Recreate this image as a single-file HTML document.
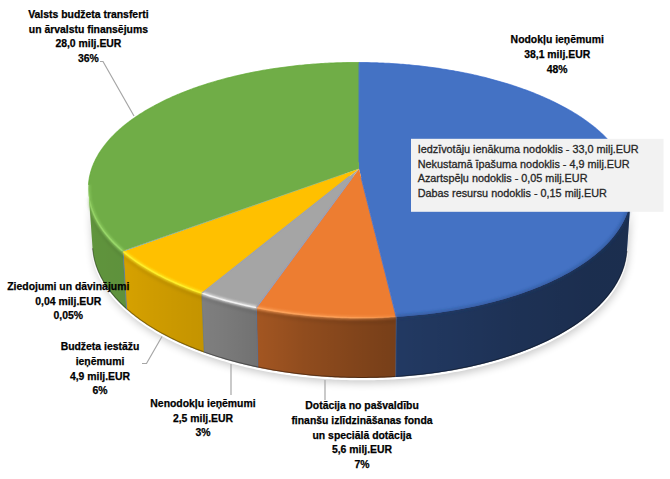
<!DOCTYPE html>
<html><head><meta charset="utf-8"><style>
html,body{margin:0;padding:0;background:#fff;width:670px;height:479px;overflow:hidden}
svg{display:block;font-family:"Liberation Sans", sans-serif}
</style></head><body>
<svg width="670" height="479" viewBox="0 0 670 479">
<defs>
<filter id="blurS" x="-20%" y="-50%" width="140%" height="200%"><feGaussianBlur stdDeviation="4"/></filter>
<filter id="blur1" x="-5%" y="-50%" width="110%" height="200%"><feGaussianBlur stdDeviation="0.7"/></filter>
<filter id="blurH" x="-5%" y="-50%" width="110%" height="200%"><feGaussianBlur stdDeviation="0.9"/></filter>
<filter id="blur05" x="-5%" y="-50%" width="110%" height="200%"><feGaussianBlur stdDeviation="0.5"/></filter>
<filter id="blur2" x="-5%" y="-50%" width="110%" height="200%"><feGaussianBlur stdDeviation="1.5"/></filter>
<linearGradient id="shade" gradientUnits="userSpaceOnUse" x1="88.53" y1="0" x2="630.96" y2="0"><stop offset="0.0000" stop-color="#000" stop-opacity="0.140"/><stop offset="0.0025" stop-color="#000" stop-opacity="0.143"/><stop offset="0.0077" stop-color="#000" stop-opacity="0.146"/><stop offset="0.0156" stop-color="#000" stop-opacity="0.149"/><stop offset="0.0262" stop-color="#000" stop-opacity="0.152"/><stop offset="0.0397" stop-color="#000" stop-opacity="0.155"/><stop offset="0.0559" stop-color="#000" stop-opacity="0.158"/><stop offset="0.0749" stop-color="#000" stop-opacity="0.166"/><stop offset="0.0967" stop-color="#000" stop-opacity="0.179"/><stop offset="0.1211" stop-color="#000" stop-opacity="0.191"/><stop offset="0.1481" stop-color="#000" stop-opacity="0.204"/><stop offset="0.1776" stop-color="#000" stop-opacity="0.217"/><stop offset="0.2094" stop-color="#000" stop-opacity="0.230"/><stop offset="0.2434" stop-color="#000" stop-opacity="0.254"/><stop offset="0.2792" stop-color="#000" stop-opacity="0.285"/><stop offset="0.3167" stop-color="#000" stop-opacity="0.319"/><stop offset="0.3557" stop-color="#000" stop-opacity="0.354"/><stop offset="0.3957" stop-color="#000" stop-opacity="0.390"/><stop offset="0.4366" stop-color="#000" stop-opacity="0.418"/><stop offset="0.4780" stop-color="#000" stop-opacity="0.446"/><stop offset="0.5196" stop-color="#000" stop-opacity="0.472"/><stop offset="0.5610" stop-color="#000" stop-opacity="0.495"/><stop offset="0.6020" stop-color="#000" stop-opacity="0.509"/><stop offset="0.6422" stop-color="#000" stop-opacity="0.522"/><stop offset="0.6812" stop-color="#000" stop-opacity="0.534"/><stop offset="0.7189" stop-color="#000" stop-opacity="0.546"/><stop offset="0.7549" stop-color="#000" stop-opacity="0.558"/><stop offset="0.7891" stop-color="#000" stop-opacity="0.570"/><stop offset="0.8211" stop-color="#000" stop-opacity="0.576"/><stop offset="0.8508" stop-color="#000" stop-opacity="0.582"/><stop offset="0.8780" stop-color="#000" stop-opacity="0.588"/><stop offset="0.9026" stop-color="#000" stop-opacity="0.594"/><stop offset="0.9245" stop-color="#000" stop-opacity="0.600"/><stop offset="0.9437" stop-color="#000" stop-opacity="0.600"/><stop offset="0.9601" stop-color="#000" stop-opacity="0.600"/><stop offset="0.9736" stop-color="#000" stop-opacity="0.600"/><stop offset="0.9843" stop-color="#000" stop-opacity="0.600"/><stop offset="0.9923" stop-color="#000" stop-opacity="0.600"/><stop offset="0.9975" stop-color="#000" stop-opacity="0.600"/><stop offset="1.0000" stop-color="#000" stop-opacity="0.600"/></linearGradient>
</defs>
<path d="M630.96,195.89 630.87,197.03 630.75,198.17 630.62,199.31 630.46,200.46 630.27,201.60 630.07,202.75 629.84,203.89 629.59,205.04 629.32,206.19 629.03,207.34 628.71,208.48 628.37,209.63 628.01,210.78 627.63,211.93 627.22,213.08 626.79,214.22 626.33,215.37 625.86,216.52 625.36,217.66 624.83,218.81 624.29,219.96 623.72,221.10 623.12,222.24 622.51,223.39 621.87,224.53 621.20,225.67 620.51,226.80 619.80,227.94 619.07,229.08 618.31,230.21 617.53,231.34 616.73,232.47 615.90,233.60 615.04,234.72 614.17,235.84 613.27,236.96 612.34,238.08 611.40,239.20 610.42,240.31 609.43,241.42 608.41,242.52 607.37,243.63 606.30,244.73 605.21,245.82 604.10,246.91 602.96,248.00 601.80,249.09 600.61,250.17 599.40,251.24 598.17,252.32 596.91,253.38 595.63,254.45 594.33,255.51 593.00,256.56 591.65,257.61 590.28,258.66 588.88,259.70 587.46,260.73 586.02,261.76 584.55,262.78 583.06,263.80 581.55,264.81 580.02,265.82 578.46,266.82 576.88,267.81 575.27,268.80 573.65,269.78 572.00,270.76 570.33,271.72 568.64,272.69 566.92,273.64 565.18,274.59 563.42,275.53 561.64,276.46 559.84,277.39 558.01,278.30 556.17,279.22 554.30,280.12 552.41,281.01 550.51,281.90 548.58,282.78 546.62,283.65 544.65,284.51 542.66,285.36 540.65,286.21 538.62,287.04 536.57,287.87 534.49,288.69 532.40,289.50 530.29,290.30 528.16,291.09 526.02,291.87 523.85,292.64 521.66,293.40 519.46,294.15 517.24,294.89 515.00,295.63 512.74,296.35 510.46,297.06 508.17,297.76 505.86,298.45 503.53,299.13 501.19,299.80 498.83,300.46 496.46,301.10 494.06,301.74 491.66,302.37 489.23,302.98 486.80,303.58 484.34,304.17 481.88,304.75 479.40,305.32 476.90,305.88 474.39,306.42 471.87,306.96 469.33,307.48 466.78,307.99 464.22,308.48 461.65,308.97 459.06,309.44 456.46,309.90 453.85,310.35 451.23,310.78 448.60,311.21 445.96,311.62 443.30,312.02 440.64,312.40 437.97,312.77 435.29,313.13 432.60,313.48 429.90,313.81 427.19,314.13 424.47,314.44 421.75,314.73 419.02,315.01 416.28,315.28 413.53,315.53 410.78,315.78 408.02,316.00 405.26,316.22 402.49,316.42 399.71,316.61 396.93,316.78 394.15,316.94 391.36,317.09 388.57,317.22 385.77,317.34 382.98,317.44 380.17,317.54 377.37,317.62 374.57,317.68 371.76,317.73 368.95,317.77 366.14,317.79 363.33,317.80 360.52,317.80 357.71,317.78 354.89,317.75 352.08,317.71 349.28,317.65 346.47,317.58 343.66,317.49 340.86,317.39 338.06,317.28 335.26,317.15 332.46,317.01 329.67,316.86 326.88,316.69 324.10,316.51 321.32,316.32 318.54,316.11 315.77,315.89 313.00,315.65 310.25,315.41 307.49,315.15 304.75,314.87 302.01,314.58 299.27,314.28 296.55,313.97 293.83,313.64 291.12,313.30 288.42,312.95 285.73,312.59 283.04,312.21 280.37,311.82 277.71,311.41 275.05,311.00 272.41,310.57 269.77,310.13 267.15,309.67 264.54,309.21 261.94,308.73 259.35,308.24 256.77,307.73 254.21,307.22 251.66,306.69 249.12,306.15 246.59,305.60 244.08,305.04 241.58,304.47 239.10,303.88 236.63,303.29 234.17,302.68 231.73,302.06 229.30,301.43 226.89,300.79 224.50,300.14 222.12,299.47 219.75,298.80 217.41,298.11 215.08,297.42 212.76,296.71 210.46,296.00 208.18,295.27 205.92,294.54 203.68,293.79 201.45,293.04 199.24,292.27 197.05,291.50 194.88,290.71 192.72,289.92 190.59,289.12 188.47,288.30 186.37,287.48 184.30,286.65 182.24,285.81 180.20,284.96 178.18,284.11 176.18,283.24 174.20,282.37 172.25,281.49 170.31,280.60 168.39,279.70 166.50,278.80 164.62,277.88 162.77,276.96 160.94,276.04 159.12,275.10 157.33,274.16 155.57,273.21 153.82,272.25 152.10,271.29 150.39,270.32 148.71,269.34 147.05,268.36 145.42,267.37 143.80,266.38 142.21,265.38 140.64,264.37 139.10,263.36 137.57,262.34 136.07,261.31 134.60,260.28 133.14,259.25 131.71,258.21 130.30,257.16 128.92,256.11 127.55,255.06 126.21,254.00 124.90,252.93 123.61,251.87 122.34,250.79 121.09,249.72 119.87,248.64 118.67,247.55 117.49,246.46 116.34,245.37 115.21,244.28 114.11,243.18 113.03,242.08 111.97,240.97 110.93,239.86 109.92,238.75 108.94,237.64 107.97,236.52 107.03,235.40 106.12,234.28 105.22,233.16 104.35,232.03 103.51,230.90 102.68,229.77 101.89,228.64 101.11,227.51 100.36,226.37 99.63,225.24 98.92,224.10 98.24,222.96 97.58,221.82 96.95,220.68 96.34,219.53 95.75,218.39 95.18,217.25 94.64,216.10 94.12,214.96 93.62,213.81 93.15,212.67 92.70,211.52 92.27,210.37 91.86,209.23 91.48,208.08 91.12,206.94 90.78,205.79 90.47,204.65 90.18,203.50 89.91,202.36 89.66,201.21 89.43,200.07 89.23,198.93 89.04,197.79 88.88,196.65 88.75,195.51 88.63,194.38 88.53,193.24 L92.61,248.72 92.71,249.90 92.83,251.09 92.97,252.28 93.13,253.47 93.31,254.66 93.52,255.85 93.74,257.04 93.99,258.24 94.26,259.43 94.55,260.62 94.87,261.82 95.20,263.01 95.56,264.21 95.94,265.40 96.35,266.60 96.77,267.79 97.22,268.99 97.69,270.18 98.18,271.37 98.70,272.57 99.23,273.76 99.79,274.95 100.38,276.14 100.98,277.33 101.61,278.52 102.26,279.71 102.94,280.89 103.64,282.08 104.36,283.26 105.10,284.44 105.87,285.62 106.66,286.80 107.47,287.97 108.30,289.15 109.16,290.32 110.05,291.48 110.95,292.65 111.88,293.81 112.83,294.97 113.81,296.13 114.80,297.29 115.82,298.44 116.87,299.58 117.94,300.73 119.03,301.87 120.14,303.01 121.28,304.14 122.44,305.27 123.62,306.40 124.82,307.52 126.05,308.64 127.30,309.75 128.58,310.86 129.88,311.96 131.20,313.06 132.54,314.15 133.91,315.24 135.29,316.32 136.71,317.40 138.14,318.48 139.60,319.54 141.08,320.60 142.58,321.66 144.10,322.71 145.65,323.75 147.21,324.79 148.80,325.82 150.42,326.85 152.05,327.86 153.71,328.87 155.38,329.88 157.08,330.88 158.80,331.87 160.54,332.85 162.31,333.82 164.09,334.79 165.90,335.75 167.72,336.70 169.57,337.65 171.43,338.58 173.32,339.51 175.23,340.43 177.16,341.34 179.11,342.25 181.07,343.14 183.06,344.03 185.07,344.90 187.09,345.77 189.14,346.63 191.20,347.48 193.29,348.32 195.39,349.15 197.51,349.97 199.65,350.78 201.81,351.58 203.98,352.37 206.17,353.15 208.38,353.92 210.61,354.68 212.86,355.43 215.12,356.17 217.39,356.89 219.69,357.61 222.00,358.32 224.32,359.01 226.67,359.70 229.02,360.37 231.40,361.03 233.78,361.68 236.19,362.32 238.60,362.95 241.03,363.56 243.48,364.17 245.94,364.76 248.41,365.34 250.89,365.91 253.39,366.46 255.90,367.00 258.43,367.54 260.96,368.05 263.51,368.56 266.07,369.05 268.64,369.53 271.22,370.00 273.81,370.46 276.41,370.90 279.02,371.33 281.64,371.74 284.28,372.15 286.92,372.54 289.57,372.91 292.22,373.28 294.89,373.63 297.56,373.96 300.24,374.29 302.93,374.60 305.63,374.89 308.33,375.17 311.04,375.44 313.75,375.70 316.47,375.94 319.20,376.17 321.93,376.38 324.66,376.58 327.40,376.76 330.15,376.94 332.89,377.09 335.64,377.24 338.40,377.37 341.15,377.48 343.91,377.59 346.67,377.67 349.43,377.75 352.20,377.81 354.96,377.85 357.73,377.88 360.49,377.90 363.26,377.90 366.02,377.89 368.79,377.87 371.55,377.83 374.31,377.77 377.07,377.71 379.83,377.62 382.59,377.53 385.34,377.42 388.09,377.29 390.84,377.16 393.58,377.01 396.32,376.84 399.05,376.66 401.78,376.47 404.51,376.26 407.23,376.04 409.94,375.80 412.65,375.55 415.35,375.29 418.04,375.01 420.73,374.72 423.41,374.42 426.08,374.10 428.75,373.77 431.40,373.43 434.05,373.07 436.69,372.70 439.32,372.31 441.94,371.91 444.55,371.50 447.15,371.08 449.74,370.64 452.32,370.19 454.88,369.73 457.44,369.25 459.98,368.77 462.52,368.26 465.04,367.75 467.55,367.23 470.04,366.69 472.52,366.14 474.99,365.57 477.45,365.00 479.89,364.41 482.32,363.81 484.73,363.20 487.13,362.58 489.52,361.94 491.89,361.30 494.24,360.64 496.58,359.97 498.90,359.29 501.21,358.60 503.50,357.89 505.77,357.18 508.03,356.46 510.27,355.72 512.49,354.97 514.69,354.22 516.88,353.45 519.05,352.67 521.20,351.89 523.34,351.09 525.45,350.28 527.55,349.46 529.62,348.64 531.68,347.80 533.72,346.95 535.74,346.10 537.74,345.23 539.72,344.36 541.68,343.47 543.63,342.58 545.55,341.68 547.45,340.77 549.33,339.85 551.19,338.93 553.03,337.99 554.84,337.05 556.64,336.10 558.42,335.14 560.17,334.18 561.90,333.20 563.61,332.22 565.30,331.23 566.97,330.23 568.62,329.23 570.24,328.22 571.85,327.20 573.43,326.18 574.98,325.15 576.52,324.11 578.03,323.07 579.52,322.02 580.99,320.97 582.44,319.90 583.86,318.84 585.26,317.76 586.64,316.69 587.99,315.60 589.32,314.51 590.63,313.42 591.91,312.32 593.18,311.22 594.41,310.11 595.63,308.99 596.82,307.88 597.99,306.75 599.14,305.63 600.26,304.50 601.36,303.36 602.44,302.22 603.49,301.08 604.52,299.94 605.52,298.79 606.51,297.63 607.47,296.48 608.40,295.32 609.31,294.16 610.20,292.99 611.07,291.83 611.91,290.66 612.73,289.48 613.53,288.31 614.30,287.13 615.05,285.95 615.77,284.77 616.48,283.59 617.16,282.40 617.81,281.22 618.45,280.03 619.06,278.84 619.65,277.65 620.21,276.46 620.75,275.27 621.27,274.07 621.77,272.88 622.24,271.68 622.69,270.49 623.12,269.29 623.52,268.09 623.91,266.90 624.27,265.70 624.61,264.50 624.92,263.30 625.22,262.11 625.49,260.91 625.74,259.71 625.96,258.52 626.17,257.32 626.35,256.12 626.51,254.93 626.65,253.74 626.77,252.54 626.87,251.35 Z" transform="translate(1,5)" fill="#000" opacity="0.22" filter="url(#blurS)"/>
<path d="M626.87,251.35 626.77,252.54 626.65,253.74 626.51,254.93 626.35,256.12 626.17,257.32 625.96,258.52 625.74,259.71 625.49,260.91 625.22,262.11 624.92,263.30 624.61,264.50 624.27,265.70 623.91,266.90 623.52,268.09 623.12,269.29 622.69,270.49 622.24,271.68 621.77,272.88 621.27,274.07 620.75,275.27 620.21,276.46 619.65,277.65 619.06,278.84 618.45,280.03 617.81,281.22 617.16,282.40 616.48,283.59 615.77,284.77 615.05,285.95 614.30,287.13 613.53,288.31 612.73,289.48 611.91,290.66 611.07,291.83 610.20,292.99 609.31,294.16 608.40,295.32 607.47,296.48 606.51,297.63 605.52,298.79 604.52,299.94 603.49,301.08 602.44,302.22 601.36,303.36 600.26,304.50 599.14,305.63 597.99,306.75 596.82,307.88 595.63,308.99 594.41,310.11 593.18,311.22 591.91,312.32 590.63,313.42 589.32,314.51 587.99,315.60 586.64,316.69 585.26,317.76 583.86,318.84 582.44,319.90 580.99,320.97 579.52,322.02 578.03,323.07 576.52,324.11 574.98,325.15 573.43,326.18 571.85,327.20 570.24,328.22 568.62,329.23 566.97,330.23 565.30,331.23 563.61,332.22 561.90,333.20 560.17,334.18 558.42,335.14 556.64,336.10 554.84,337.05 553.03,337.99 551.19,338.93 549.33,339.85 547.45,340.77 545.55,341.68 543.63,342.58 541.68,343.47 539.72,344.36 537.74,345.23 535.74,346.10 533.72,346.95 531.68,347.80 529.62,348.64 527.55,349.46 525.45,350.28 523.34,351.09 521.20,351.89 519.05,352.67 516.88,353.45 514.69,354.22 512.49,354.97 510.27,355.72 508.03,356.46 505.77,357.18 503.50,357.89 501.21,358.60 498.90,359.29 496.58,359.97 494.24,360.64 491.89,361.30 489.52,361.94 487.13,362.58 484.73,363.20 482.32,363.81 479.89,364.41 477.45,365.00 474.99,365.57 472.52,366.14 470.04,366.69 467.55,367.23 465.04,367.75 462.52,368.26 459.98,368.77 457.44,369.25 454.88,369.73 452.32,370.19 449.74,370.64 447.15,371.08 444.55,371.50 441.94,371.91 439.32,372.31 436.69,372.70 434.05,373.07 431.40,373.43 428.75,373.77 426.08,374.10 423.41,374.42 420.73,374.72 418.04,375.01 415.35,375.29 412.65,375.55 409.94,375.80 407.23,376.04 404.51,376.26 401.78,376.47 399.05,376.66 396.32,376.84 393.58,377.01 390.84,377.16 388.09,377.29 385.34,377.42 382.59,377.53 379.83,377.62 377.07,377.71 374.31,377.77 371.55,377.83 368.79,377.87 366.02,377.89 363.26,377.90 360.49,377.90 357.73,377.88 354.96,377.85 352.20,377.81 349.43,377.75 346.67,377.67 343.91,377.59 341.15,377.48 338.40,377.37 335.64,377.24 332.89,377.09 330.15,376.94 327.40,376.76 324.66,376.58 321.93,376.38 319.20,376.17 316.47,375.94 313.75,375.70 311.04,375.44 308.33,375.17 305.63,374.89 302.93,374.60 300.24,374.29 297.56,373.96 294.89,373.63 292.22,373.28 289.57,372.91 286.92,372.54 284.28,372.15 281.64,371.74 279.02,371.33 276.41,370.90 273.81,370.46 271.22,370.00 268.64,369.53 266.07,369.05 263.51,368.56 260.96,368.05 258.43,367.54 255.90,367.00 253.39,366.46 250.89,365.91 248.41,365.34 245.94,364.76 243.48,364.17 241.03,363.56 238.60,362.95 236.19,362.32 233.78,361.68 231.40,361.03 229.02,360.37 226.67,359.70 224.32,359.01 222.00,358.32 219.69,357.61 217.39,356.89 215.12,356.17 212.86,355.43 210.61,354.68 208.38,353.92 206.17,353.15 203.98,352.37 201.81,351.58 199.65,350.78 197.51,349.97 195.39,349.15 193.29,348.32 191.20,347.48 189.14,346.63 187.09,345.77 185.07,344.90 183.06,344.03 181.07,343.14 179.11,342.25 177.16,341.34 175.23,340.43 173.32,339.51 171.43,338.58 169.57,337.65 167.72,336.70 165.90,335.75 164.09,334.79 162.31,333.82 160.54,332.85 158.80,331.87 157.08,330.88 155.38,329.88 153.71,328.87 152.05,327.86 150.42,326.85 148.80,325.82 147.21,324.79 145.65,323.75 144.10,322.71 142.58,321.66 141.08,320.60 139.60,319.54 138.14,318.48 136.71,317.40 135.29,316.32 133.91,315.24 132.54,314.15 131.20,313.06 129.88,311.96 128.58,310.86 127.30,309.75 126.05,308.64 124.82,307.52 123.62,306.40 122.44,305.27 121.28,304.14 120.14,303.01 119.03,301.87 117.94,300.73 116.87,299.58 115.82,298.44 114.80,297.29 113.81,296.13 112.83,294.97 111.88,293.81 110.95,292.65 110.05,291.48 109.16,290.32 108.30,289.15 107.47,287.97 106.66,286.80 105.87,285.62 105.10,284.44 104.36,283.26 103.64,282.08 102.94,280.89 102.26,279.71 101.61,278.52 100.98,277.33 100.38,276.14 99.79,274.95 99.23,273.76 98.70,272.57 98.18,271.37 97.69,270.18 97.22,268.99 96.77,267.79 96.35,266.60 95.94,265.40 95.56,264.21 95.20,263.01 94.87,261.82 94.55,260.62 94.26,259.43 93.99,258.24 93.74,257.04 93.52,255.85 93.31,254.66 93.13,253.47 92.97,252.28 92.83,251.09 92.71,249.90 92.61,248.72" fill="none" stroke="#fff" stroke-width="2.2" transform="translate(0,1.3)"/>
<path d="M630.96,193.39 630.87,194.53 630.75,195.67 630.62,196.82 630.46,197.96 630.27,199.11 630.07,200.26 629.84,201.41 629.59,202.56 629.32,203.71 629.02,204.85 628.71,206.00 628.37,207.15 628.00,208.30 627.62,209.46 627.21,210.61 626.77,211.75 626.32,212.90 625.84,214.05 625.34,215.20 624.81,216.35 624.27,217.50 623.69,218.64 623.10,219.79 622.48,220.93 621.84,222.07 621.17,223.22 620.48,224.36 619.77,225.49 619.03,226.63 618.27,227.77 617.49,228.90 616.68,230.03 615.85,231.16 614.99,232.29 614.11,233.41 613.21,234.53 612.28,235.65 611.33,236.77 610.36,237.88 609.36,238.99 608.34,240.10 607.29,241.20 606.22,242.31 605.13,243.40 604.01,244.50 602.87,245.59 601.70,246.67 600.51,247.76 599.30,248.83 598.06,249.91 596.80,250.98 595.52,252.04 594.21,253.10 592.88,254.16 591.53,255.21 590.15,256.26 588.75,257.30 587.32,258.33 585.87,259.36 584.40,260.39 582.91,261.40 581.39,262.42 579.85,263.43 578.29,264.43 576.70,265.42 575.09,266.41 573.46,267.39 571.81,268.37 570.13,269.34 568.43,270.30 566.71,271.25 564.97,272.20 563.20,273.14 561.42,274.08 559.61,275.00 557.78,275.92 555.93,276.83 554.05,277.74 552.16,278.63 550.24,279.52 548.31,280.40 546.35,281.27 544.37,282.13 542.38,282.98 540.36,283.83 538.32,284.67 536.26,285.49 534.18,286.31 532.09,287.12 529.97,287.92 527.83,288.71 525.68,289.49 523.50,290.26 521.31,291.02 519.10,291.77 516.87,292.51 514.63,293.25 512.36,293.97 510.08,294.68 507.78,295.38 505.46,296.07 503.13,296.75 500.78,297.41 498.41,298.07 496.03,298.72 493.63,299.35 491.22,299.98 488.79,300.59 486.34,301.19 483.88,301.78 481.41,302.36 478.92,302.93 476.42,303.48 473.90,304.03 471.37,304.56 468.83,305.08 466.27,305.59 463.70,306.08 461.12,306.56 458.53,307.04 455.93,307.49 453.31,307.94 450.68,308.37 448.04,308.79 445.39,309.20 442.73,309.60 440.06,309.98 437.39,310.35 434.70,310.71 432.00,311.05 429.29,311.38 426.58,311.70 423.86,312.01 421.13,312.30 418.39,312.58 415.64,312.84 412.89,313.09 410.13,313.33 407.37,313.56 404.60,313.77 401.82,313.96 399.04,314.15 396.26,314.32 L395.70,376.88 398.44,376.70 401.17,376.51 403.90,376.31 406.63,376.09 409.35,375.85 412.06,375.61 414.77,375.35 417.47,375.07 420.16,374.78 422.85,374.48 425.52,374.17 428.19,373.84 430.86,373.50 433.51,373.14 436.15,372.77 438.79,372.39 441.42,371.99 444.03,371.59 446.64,371.16 449.23,370.73 451.82,370.28 454.39,369.82 456.96,369.35 459.51,368.86 462.05,368.36 464.57,367.85 467.09,367.32 469.59,366.79 472.08,366.24 474.55,365.67 477.02,365.10 479.46,364.51 481.90,363.92 484.32,363.31 486.72,362.68 489.11,362.05 491.49,361.40 493.85,360.75 496.19,360.08 498.52,359.40 500.83,358.71 503.13,358.01 505.41,357.29 507.67,356.57 509.92,355.84 512.15,355.09 514.36,354.33 516.55,353.57 518.73,352.79 520.89,352.00 523.03,351.21 525.15,350.40 527.25,349.58 529.33,348.75 531.40,347.92 533.44,347.07 535.47,346.21 537.48,345.35 539.46,344.47 541.43,343.59 543.38,342.70 545.30,341.80 547.21,340.89 549.09,339.97 550.96,339.04 552.80,338.11 554.63,337.16 556.43,336.21 558.21,335.25 559.97,334.29 561.71,333.31 563.42,332.33 565.12,331.34 566.79,330.34 568.44,329.34 570.07,328.33 571.68,327.31 573.26,326.29 574.83,325.25 576.37,324.22 577.88,323.17 579.38,322.12 580.85,321.07 582.30,320.00 583.73,318.94 585.13,317.86 586.51,316.78 587.87,315.70 589.21,314.61 590.52,313.51 591.81,312.41 593.07,311.31 594.32,310.20 595.54,309.08 596.73,307.96 597.91,306.84 599.06,305.71 600.18,304.58 601.28,303.44 602.36,302.30 603.42,301.16 604.45,300.01 605.46,298.86 606.45,297.71 607.41,296.55 608.35,295.39 609.26,294.22 610.15,293.06 611.02,291.89 611.87,290.72 612.69,289.54 613.49,288.37 614.26,287.19 615.01,286.01 615.74,284.82 616.45,283.64 617.13,282.45 617.79,281.27 618.42,280.08 619.04,278.88 619.63,277.69 620.19,276.50 620.74,275.30 621.26,274.11 621.75,272.91 622.23,271.71 622.68,270.52 623.11,269.32 623.52,268.12 623.90,266.92 624.26,265.72 624.60,264.52 624.92,263.32 625.21,262.12 625.48,260.92 625.73,259.72 625.96,258.53 626.17,257.33 626.35,256.13 626.51,254.94 626.65,253.74 626.77,252.55 626.87,251.35 Z" fill="#4472C4"/>
<path d="M396.26,314.32 393.42,314.48 390.58,314.62 387.74,314.76 384.90,314.87 382.05,314.98 379.20,315.07 376.34,315.14 373.49,315.20 370.63,315.25 367.77,315.28 364.91,315.30 362.05,315.30 359.19,315.29 356.33,315.27 353.47,315.23 350.61,315.18 347.75,315.11 344.89,315.03 342.04,314.94 339.19,314.83 336.34,314.70 333.49,314.57 330.65,314.41 327.81,314.25 324.97,314.07 322.14,313.88 319.32,313.67 316.50,313.45 313.68,313.21 310.87,312.96 308.07,312.70 305.27,312.43 302.48,312.14 299.70,311.83 296.93,311.51 294.16,311.18 291.40,310.84 288.65,310.48 285.91,310.11 283.18,309.73 280.46,309.33 277.75,308.92 275.05,308.49 272.35,308.06 269.67,307.61 267.01,307.15 264.35,306.67 261.70,306.18 259.07,305.68 256.45,305.17 L257.99,367.44 260.57,367.97 263.16,368.49 265.77,369.00 268.39,369.49 271.01,369.97 273.65,370.43 276.30,370.88 278.97,371.32 281.64,371.74 284.32,372.15 287.01,372.55 289.71,372.93 292.42,373.30 295.13,373.66 297.86,374.00 300.59,374.33 303.33,374.64 306.08,374.94 308.83,375.22 311.59,375.50 314.36,375.75 317.13,375.99 319.91,376.22 322.70,376.44 325.48,376.64 328.28,376.82 331.07,376.99 333.87,377.15 336.68,377.29 339.48,377.42 342.29,377.53 345.11,377.62 347.92,377.71 350.73,377.78 353.55,377.83 356.37,377.87 359.19,377.89 362.00,377.90 364.82,377.90 367.64,377.88 370.45,377.84 373.27,377.80 376.08,377.73 378.89,377.65 381.70,377.56 384.51,377.45 387.31,377.33 390.11,377.19 392.91,377.04 395.70,376.88 Z" fill="#ED7D31"/>
<path d="M256.45,305.17 253.80,304.64 251.17,304.09 248.55,303.53 245.95,302.96 243.36,302.38 240.78,301.78 238.22,301.17 235.68,300.55 233.15,299.92 230.63,299.28 228.14,298.62 225.65,297.95 223.19,297.27 220.74,296.58 218.31,295.88 215.90,295.17 213.50,294.44 211.13,293.71 208.77,292.96 206.43,292.20 204.10,291.44 201.80,290.66 L204.16,352.43 206.43,353.24 208.71,354.03 211.02,354.82 213.34,355.59 215.69,356.35 218.05,357.10 220.42,357.84 222.82,358.56 225.23,359.28 227.65,359.98 230.10,360.67 232.56,361.35 235.03,362.02 237.53,362.67 240.03,363.31 242.56,363.94 245.09,364.56 247.64,365.16 250.21,365.75 252.79,366.33 255.38,366.89 257.99,367.44 Z" fill="#A5A5A5"/>
<path d="M201.80,290.66 199.56,289.88 197.34,289.10 195.14,288.31 192.96,287.51 190.80,286.70 188.66,285.87 186.53,285.04 184.43,284.20 182.34,283.36 180.28,282.50 178.24,281.63 176.21,280.76 174.21,279.87 172.23,278.98 170.27,278.08 168.33,277.17 166.42,276.26 164.52,275.33 162.64,274.40 160.79,273.46 158.96,272.52 157.15,271.56 155.37,270.60 153.60,269.63 151.86,268.66 150.14,267.67 148.44,266.69 146.77,265.69 145.12,264.69 143.49,263.68 141.88,262.67 140.30,261.64 138.74,260.62 137.20,259.59 135.69,258.55 134.20,257.51 132.74,256.46 131.30,255.40 129.88,254.34 128.48,253.28 127.11,252.21 125.76,251.14 124.44,250.06 123.14,248.98 L126.68,309.19 127.96,310.32 129.26,311.44 130.59,312.56 131.94,313.67 133.31,314.77 134.71,315.87 136.13,316.97 137.57,318.06 139.04,319.14 140.53,320.22 142.04,321.29 143.58,322.35 145.14,323.41 146.72,324.47 148.32,325.51 149.95,326.55 151.60,327.59 153.27,328.61 154.97,329.63 156.68,330.64 158.42,331.65 160.18,332.64 161.96,333.63 163.76,334.62 165.59,335.59 167.44,336.56 169.30,337.51 171.19,338.46 173.10,339.41 175.03,340.34 176.98,341.26 178.96,342.18 180.95,343.08 182.96,343.98 184.99,344.87 187.05,345.75 189.12,346.62 191.21,347.48 193.32,348.33 195.45,349.17 197.60,350.00 199.77,350.82 201.95,351.63 204.16,352.43 Z" fill="#FFC000"/>
<path d="M123.14,248.98 122.68,248.59 L126.22,308.79 126.68,309.19 Z" fill="#5B9BD5"/>
<path d="M122.68,248.59 121.42,247.51 120.19,246.42 118.97,245.33 117.79,244.24 116.62,243.14 115.48,242.04 114.37,240.94 113.27,239.83 112.20,238.72 111.16,237.61 110.14,236.49 109.14,235.37 108.17,234.25 107.22,233.12 106.29,232.00 105.39,230.87 104.51,229.74 103.65,228.60 102.82,227.47 102.02,226.33 101.23,225.19 100.47,224.05 99.74,222.91 99.03,221.76 98.34,220.62 97.67,219.47 97.03,218.32 96.41,217.17 95.82,216.02 95.24,214.87 94.70,213.72 94.17,212.57 93.67,211.42 93.19,210.27 92.74,209.12 92.30,207.97 91.89,206.81 91.51,205.66 91.14,204.51 90.80,203.36 90.48,202.21 90.19,201.06 89.92,199.91 89.67,198.76 89.44,197.61 89.23,196.46 89.05,195.32 88.89,194.17 88.75,193.03 88.63,191.88 88.53,190.74 L92.61,248.72 92.71,249.91 92.83,251.10 92.97,252.29 93.13,253.48 93.31,254.67 93.52,255.87 93.75,257.07 94.00,258.26 94.27,259.46 94.56,260.66 94.88,261.85 95.21,263.05 95.57,264.25 95.96,265.45 96.36,266.65 96.79,267.84 97.24,269.04 97.71,270.24 98.21,271.44 98.72,272.63 99.27,273.83 99.83,275.02 100.42,276.22 101.02,277.41 101.66,278.60 102.31,279.79 102.99,280.98 103.69,282.17 104.41,283.35 105.16,284.54 105.93,285.72 106.73,286.90 107.54,288.08 108.38,289.25 109.25,290.43 110.13,291.60 111.04,292.77 111.98,293.93 112.93,295.10 113.91,296.26 114.92,297.41 115.94,298.57 116.99,299.72 118.06,300.87 119.16,302.01 120.28,303.15 121.42,304.29 122.59,305.42 123.78,306.55 124.99,307.67 126.22,308.79 Z" fill="#70AD47"/>
<path d="M630.96,195.89 630.87,197.03 630.75,198.17 630.62,199.31 630.46,200.46 630.27,201.60 630.07,202.75 629.84,203.89 629.59,205.04 629.32,206.19 629.03,207.34 628.71,208.48 628.37,209.63 628.01,210.78 627.63,211.93 627.22,213.08 626.79,214.22 626.33,215.37 625.86,216.52 625.36,217.66 624.83,218.81 624.29,219.96 623.72,221.10 623.12,222.24 622.51,223.39 621.87,224.53 621.20,225.67 620.51,226.80 619.80,227.94 619.07,229.08 618.31,230.21 617.53,231.34 616.73,232.47 615.90,233.60 615.04,234.72 614.17,235.84 613.27,236.96 612.34,238.08 611.40,239.20 610.42,240.31 609.43,241.42 608.41,242.52 607.37,243.63 606.30,244.73 605.21,245.82 604.10,246.91 602.96,248.00 601.80,249.09 600.61,250.17 599.40,251.24 598.17,252.32 596.91,253.38 595.63,254.45 594.33,255.51 593.00,256.56 591.65,257.61 590.28,258.66 588.88,259.70 587.46,260.73 586.02,261.76 584.55,262.78 583.06,263.80 581.55,264.81 580.02,265.82 578.46,266.82 576.88,267.81 575.27,268.80 573.65,269.78 572.00,270.76 570.33,271.72 568.64,272.69 566.92,273.64 565.18,274.59 563.42,275.53 561.64,276.46 559.84,277.39 558.01,278.30 556.17,279.22 554.30,280.12 552.41,281.01 550.51,281.90 548.58,282.78 546.62,283.65 544.65,284.51 542.66,285.36 540.65,286.21 538.62,287.04 536.57,287.87 534.49,288.69 532.40,289.50 530.29,290.30 528.16,291.09 526.02,291.87 523.85,292.64 521.66,293.40 519.46,294.15 517.24,294.89 515.00,295.63 512.74,296.35 510.46,297.06 508.17,297.76 505.86,298.45 503.53,299.13 501.19,299.80 498.83,300.46 496.46,301.10 494.06,301.74 491.66,302.37 489.23,302.98 486.80,303.58 484.34,304.17 481.88,304.75 479.40,305.32 476.90,305.88 474.39,306.42 471.87,306.96 469.33,307.48 466.78,307.99 464.22,308.48 461.65,308.97 459.06,309.44 456.46,309.90 453.85,310.35 451.23,310.78 448.60,311.21 445.96,311.62 443.30,312.02 440.64,312.40 437.97,312.77 435.29,313.13 432.60,313.48 429.90,313.81 427.19,314.13 424.47,314.44 421.75,314.73 419.02,315.01 416.28,315.28 413.53,315.53 410.78,315.78 408.02,316.00 405.26,316.22 402.49,316.42 399.71,316.61 396.93,316.78 394.15,316.94 391.36,317.09 388.57,317.22 385.77,317.34 382.98,317.44 380.17,317.54 377.37,317.62 374.57,317.68 371.76,317.73 368.95,317.77 366.14,317.79 363.33,317.80 360.52,317.80 357.71,317.78 354.89,317.75 352.08,317.71 349.28,317.65 346.47,317.58 343.66,317.49 340.86,317.39 338.06,317.28 335.26,317.15 332.46,317.01 329.67,316.86 326.88,316.69 324.10,316.51 321.32,316.32 318.54,316.11 315.77,315.89 313.00,315.65 310.25,315.41 307.49,315.15 304.75,314.87 302.01,314.58 299.27,314.28 296.55,313.97 293.83,313.64 291.12,313.30 288.42,312.95 285.73,312.59 283.04,312.21 280.37,311.82 277.71,311.41 275.05,311.00 272.41,310.57 269.77,310.13 267.15,309.67 264.54,309.21 261.94,308.73 259.35,308.24 256.77,307.73 254.21,307.22 251.66,306.69 249.12,306.15 246.59,305.60 244.08,305.04 241.58,304.47 239.10,303.88 236.63,303.29 234.17,302.68 231.73,302.06 229.30,301.43 226.89,300.79 224.50,300.14 222.12,299.47 219.75,298.80 217.41,298.11 215.08,297.42 212.76,296.71 210.46,296.00 208.18,295.27 205.92,294.54 203.68,293.79 201.45,293.04 199.24,292.27 197.05,291.50 194.88,290.71 192.72,289.92 190.59,289.12 188.47,288.30 186.37,287.48 184.30,286.65 182.24,285.81 180.20,284.96 178.18,284.11 176.18,283.24 174.20,282.37 172.25,281.49 170.31,280.60 168.39,279.70 166.50,278.80 164.62,277.88 162.77,276.96 160.94,276.04 159.12,275.10 157.33,274.16 155.57,273.21 153.82,272.25 152.10,271.29 150.39,270.32 148.71,269.34 147.05,268.36 145.42,267.37 143.80,266.38 142.21,265.38 140.64,264.37 139.10,263.36 137.57,262.34 136.07,261.31 134.60,260.28 133.14,259.25 131.71,258.21 130.30,257.16 128.92,256.11 127.55,255.06 126.21,254.00 124.90,252.93 123.61,251.87 122.34,250.79 121.09,249.72 119.87,248.64 118.67,247.55 117.49,246.46 116.34,245.37 115.21,244.28 114.11,243.18 113.03,242.08 111.97,240.97 110.93,239.86 109.92,238.75 108.94,237.64 107.97,236.52 107.03,235.40 106.12,234.28 105.22,233.16 104.35,232.03 103.51,230.90 102.68,229.77 101.89,228.64 101.11,227.51 100.36,226.37 99.63,225.24 98.92,224.10 98.24,222.96 97.58,221.82 96.95,220.68 96.34,219.53 95.75,218.39 95.18,217.25 94.64,216.10 94.12,214.96 93.62,213.81 93.15,212.67 92.70,211.52 92.27,210.37 91.86,209.23 91.48,208.08 91.12,206.94 90.78,205.79 90.47,204.65 90.18,203.50 89.91,202.36 89.66,201.21 89.43,200.07 89.23,198.93 89.04,197.79 88.88,196.65 88.75,195.51 88.63,194.38 88.53,193.24 L92.61,248.72 92.71,249.90 92.83,251.09 92.97,252.28 93.13,253.47 93.31,254.66 93.52,255.85 93.74,257.04 93.99,258.24 94.26,259.43 94.55,260.62 94.87,261.82 95.20,263.01 95.56,264.21 95.94,265.40 96.35,266.60 96.77,267.79 97.22,268.99 97.69,270.18 98.18,271.37 98.70,272.57 99.23,273.76 99.79,274.95 100.38,276.14 100.98,277.33 101.61,278.52 102.26,279.71 102.94,280.89 103.64,282.08 104.36,283.26 105.10,284.44 105.87,285.62 106.66,286.80 107.47,287.97 108.30,289.15 109.16,290.32 110.05,291.48 110.95,292.65 111.88,293.81 112.83,294.97 113.81,296.13 114.80,297.29 115.82,298.44 116.87,299.58 117.94,300.73 119.03,301.87 120.14,303.01 121.28,304.14 122.44,305.27 123.62,306.40 124.82,307.52 126.05,308.64 127.30,309.75 128.58,310.86 129.88,311.96 131.20,313.06 132.54,314.15 133.91,315.24 135.29,316.32 136.71,317.40 138.14,318.48 139.60,319.54 141.08,320.60 142.58,321.66 144.10,322.71 145.65,323.75 147.21,324.79 148.80,325.82 150.42,326.85 152.05,327.86 153.71,328.87 155.38,329.88 157.08,330.88 158.80,331.87 160.54,332.85 162.31,333.82 164.09,334.79 165.90,335.75 167.72,336.70 169.57,337.65 171.43,338.58 173.32,339.51 175.23,340.43 177.16,341.34 179.11,342.25 181.07,343.14 183.06,344.03 185.07,344.90 187.09,345.77 189.14,346.63 191.20,347.48 193.29,348.32 195.39,349.15 197.51,349.97 199.65,350.78 201.81,351.58 203.98,352.37 206.17,353.15 208.38,353.92 210.61,354.68 212.86,355.43 215.12,356.17 217.39,356.89 219.69,357.61 222.00,358.32 224.32,359.01 226.67,359.70 229.02,360.37 231.40,361.03 233.78,361.68 236.19,362.32 238.60,362.95 241.03,363.56 243.48,364.17 245.94,364.76 248.41,365.34 250.89,365.91 253.39,366.46 255.90,367.00 258.43,367.54 260.96,368.05 263.51,368.56 266.07,369.05 268.64,369.53 271.22,370.00 273.81,370.46 276.41,370.90 279.02,371.33 281.64,371.74 284.28,372.15 286.92,372.54 289.57,372.91 292.22,373.28 294.89,373.63 297.56,373.96 300.24,374.29 302.93,374.60 305.63,374.89 308.33,375.17 311.04,375.44 313.75,375.70 316.47,375.94 319.20,376.17 321.93,376.38 324.66,376.58 327.40,376.76 330.15,376.94 332.89,377.09 335.64,377.24 338.40,377.37 341.15,377.48 343.91,377.59 346.67,377.67 349.43,377.75 352.20,377.81 354.96,377.85 357.73,377.88 360.49,377.90 363.26,377.90 366.02,377.89 368.79,377.87 371.55,377.83 374.31,377.77 377.07,377.71 379.83,377.62 382.59,377.53 385.34,377.42 388.09,377.29 390.84,377.16 393.58,377.01 396.32,376.84 399.05,376.66 401.78,376.47 404.51,376.26 407.23,376.04 409.94,375.80 412.65,375.55 415.35,375.29 418.04,375.01 420.73,374.72 423.41,374.42 426.08,374.10 428.75,373.77 431.40,373.43 434.05,373.07 436.69,372.70 439.32,372.31 441.94,371.91 444.55,371.50 447.15,371.08 449.74,370.64 452.32,370.19 454.88,369.73 457.44,369.25 459.98,368.77 462.52,368.26 465.04,367.75 467.55,367.23 470.04,366.69 472.52,366.14 474.99,365.57 477.45,365.00 479.89,364.41 482.32,363.81 484.73,363.20 487.13,362.58 489.52,361.94 491.89,361.30 494.24,360.64 496.58,359.97 498.90,359.29 501.21,358.60 503.50,357.89 505.77,357.18 508.03,356.46 510.27,355.72 512.49,354.97 514.69,354.22 516.88,353.45 519.05,352.67 521.20,351.89 523.34,351.09 525.45,350.28 527.55,349.46 529.62,348.64 531.68,347.80 533.72,346.95 535.74,346.10 537.74,345.23 539.72,344.36 541.68,343.47 543.63,342.58 545.55,341.68 547.45,340.77 549.33,339.85 551.19,338.93 553.03,337.99 554.84,337.05 556.64,336.10 558.42,335.14 560.17,334.18 561.90,333.20 563.61,332.22 565.30,331.23 566.97,330.23 568.62,329.23 570.24,328.22 571.85,327.20 573.43,326.18 574.98,325.15 576.52,324.11 578.03,323.07 579.52,322.02 580.99,320.97 582.44,319.90 583.86,318.84 585.26,317.76 586.64,316.69 587.99,315.60 589.32,314.51 590.63,313.42 591.91,312.32 593.18,311.22 594.41,310.11 595.63,308.99 596.82,307.88 597.99,306.75 599.14,305.63 600.26,304.50 601.36,303.36 602.44,302.22 603.49,301.08 604.52,299.94 605.52,298.79 606.51,297.63 607.47,296.48 608.40,295.32 609.31,294.16 610.20,292.99 611.07,291.83 611.91,290.66 612.73,289.48 613.53,288.31 614.30,287.13 615.05,285.95 615.77,284.77 616.48,283.59 617.16,282.40 617.81,281.22 618.45,280.03 619.06,278.84 619.65,277.65 620.21,276.46 620.75,275.27 621.27,274.07 621.77,272.88 622.24,271.68 622.69,270.49 623.12,269.29 623.52,268.09 623.91,266.90 624.27,265.70 624.61,264.50 624.92,263.30 625.22,262.11 625.49,260.91 625.74,259.71 625.96,258.52 626.17,257.32 626.35,256.12 626.51,254.93 626.65,253.74 626.77,252.54 626.87,251.35 Z" fill="url(#shade)"/>
<path d="M626.87,251.35 626.77,252.54 626.65,253.74 626.51,254.93 626.35,256.12 626.17,257.32 625.96,258.52 625.74,259.71 625.49,260.91 625.22,262.11 624.92,263.30 624.61,264.50 624.27,265.70 623.91,266.90 623.52,268.09 623.12,269.29 622.69,270.49 622.24,271.68 621.77,272.88 621.27,274.07 620.75,275.27 620.21,276.46 619.65,277.65 619.06,278.84 618.45,280.03 617.81,281.22 617.16,282.40 616.48,283.59 615.77,284.77 615.05,285.95 614.30,287.13 613.53,288.31 612.73,289.48 611.91,290.66 611.07,291.83 610.20,292.99 609.31,294.16 608.40,295.32 607.47,296.48 606.51,297.63 605.52,298.79 604.52,299.94 603.49,301.08 602.44,302.22 601.36,303.36 600.26,304.50 599.14,305.63 597.99,306.75 596.82,307.88 595.63,308.99 594.41,310.11 593.18,311.22 591.91,312.32 590.63,313.42 589.32,314.51 587.99,315.60 586.64,316.69 585.26,317.76 583.86,318.84 582.44,319.90 580.99,320.97 579.52,322.02 578.03,323.07 576.52,324.11 574.98,325.15 573.43,326.18 571.85,327.20 570.24,328.22 568.62,329.23 566.97,330.23 565.30,331.23 563.61,332.22 561.90,333.20 560.17,334.18 558.42,335.14 556.64,336.10 554.84,337.05 553.03,337.99 551.19,338.93 549.33,339.85 547.45,340.77 545.55,341.68 543.63,342.58 541.68,343.47 539.72,344.36 537.74,345.23 535.74,346.10 533.72,346.95 531.68,347.80 529.62,348.64 527.55,349.46 525.45,350.28 523.34,351.09 521.20,351.89 519.05,352.67 516.88,353.45 514.69,354.22 512.49,354.97 510.27,355.72 508.03,356.46 505.77,357.18 503.50,357.89 501.21,358.60 498.90,359.29 496.58,359.97 494.24,360.64 491.89,361.30 489.52,361.94 487.13,362.58 484.73,363.20 482.32,363.81 479.89,364.41 477.45,365.00 474.99,365.57 472.52,366.14 470.04,366.69 467.55,367.23 465.04,367.75 462.52,368.26 459.98,368.77 457.44,369.25 454.88,369.73 452.32,370.19 449.74,370.64 447.15,371.08 444.55,371.50 441.94,371.91 439.32,372.31 436.69,372.70 434.05,373.07 431.40,373.43 428.75,373.77 426.08,374.10 423.41,374.42 420.73,374.72 418.04,375.01 415.35,375.29 412.65,375.55 409.94,375.80 407.23,376.04 404.51,376.26 401.78,376.47 399.05,376.66 396.32,376.84 393.58,377.01 390.84,377.16 388.09,377.29 385.34,377.42 382.59,377.53 379.83,377.62 377.07,377.71 374.31,377.77 371.55,377.83 368.79,377.87 366.02,377.89 363.26,377.90 360.49,377.90 357.73,377.88 354.96,377.85 352.20,377.81 349.43,377.75 346.67,377.67 343.91,377.59 341.15,377.48 338.40,377.37 335.64,377.24 332.89,377.09 330.15,376.94 327.40,376.76 324.66,376.58 321.93,376.38 319.20,376.17 316.47,375.94 313.75,375.70 311.04,375.44 308.33,375.17 305.63,374.89 302.93,374.60 300.24,374.29 297.56,373.96 294.89,373.63 292.22,373.28 289.57,372.91 286.92,372.54 284.28,372.15 281.64,371.74 279.02,371.33 276.41,370.90 273.81,370.46 271.22,370.00 268.64,369.53 266.07,369.05 263.51,368.56 260.96,368.05 258.43,367.54 255.90,367.00 253.39,366.46 250.89,365.91 248.41,365.34 245.94,364.76 243.48,364.17 241.03,363.56 238.60,362.95 236.19,362.32 233.78,361.68 231.40,361.03 229.02,360.37 226.67,359.70 224.32,359.01 222.00,358.32 219.69,357.61 217.39,356.89 215.12,356.17 212.86,355.43 210.61,354.68 208.38,353.92 206.17,353.15 203.98,352.37 201.81,351.58 199.65,350.78 197.51,349.97 195.39,349.15 193.29,348.32 191.20,347.48 189.14,346.63 187.09,345.77 185.07,344.90 183.06,344.03 181.07,343.14 179.11,342.25 177.16,341.34 175.23,340.43 173.32,339.51 171.43,338.58 169.57,337.65 167.72,336.70 165.90,335.75 164.09,334.79 162.31,333.82 160.54,332.85 158.80,331.87 157.08,330.88 155.38,329.88 153.71,328.87 152.05,327.86 150.42,326.85 148.80,325.82 147.21,324.79 145.65,323.75 144.10,322.71 142.58,321.66 141.08,320.60 139.60,319.54 138.14,318.48 136.71,317.40 135.29,316.32 133.91,315.24 132.54,314.15 131.20,313.06 129.88,311.96 128.58,310.86 127.30,309.75 126.05,308.64 124.82,307.52 123.62,306.40 122.44,305.27 121.28,304.14 120.14,303.01 119.03,301.87 117.94,300.73 116.87,299.58 115.82,298.44 114.80,297.29 113.81,296.13 112.83,294.97 111.88,293.81 110.95,292.65 110.05,291.48 109.16,290.32 108.30,289.15 107.47,287.97 106.66,286.80 105.87,285.62 105.10,284.44 104.36,283.26 103.64,282.08 102.94,280.89 102.26,279.71 101.61,278.52 100.98,277.33 100.38,276.14 99.79,274.95 99.23,273.76 98.70,272.57 98.18,271.37 97.69,270.18 97.22,268.99 96.77,267.79 96.35,266.60 95.94,265.40 95.56,264.21 95.20,263.01 94.87,261.82 94.55,260.62 94.26,259.43 93.99,258.24 93.74,257.04 93.52,255.85 93.31,254.66 93.13,253.47 92.97,252.28 92.83,251.09 92.71,249.90 92.61,248.72" transform="translate(0,-0.4)" fill="none" stroke="#000" stroke-opacity="0.35" stroke-width="1.2"/>
<path d="M396.26,316.82 395.70,376.88" fill="none" stroke="#3F6AB0" stroke-opacity="0.45" stroke-width="1"/>
<path d="M256.45,307.67 257.99,367.44" fill="none" stroke="#3F6AB0" stroke-opacity="0.45" stroke-width="1"/>
<path d="M201.80,293.16 204.16,352.43" fill="none" stroke="#3F6AB0" stroke-opacity="0.45" stroke-width="1"/>
<path d="M123.14,251.48 126.68,309.19" fill="none" stroke="#3F6AB0" stroke-opacity="0.45" stroke-width="1"/>
<path d="M358.98,168.64 359.09,62.51 361.09,62.52 363.10,62.54 365.10,62.56 367.10,62.60 369.10,62.64 371.10,62.68 373.10,62.73 375.10,62.79 377.10,62.86 379.10,62.94 381.09,63.02 383.09,63.10 385.08,63.20 387.08,63.30 389.07,63.41 391.06,63.52 393.05,63.65 395.04,63.77 397.03,63.91 399.02,64.05 401.00,64.20 402.98,64.36 404.97,64.52 406.94,64.70 408.92,64.87 410.90,65.06 412.87,65.25 414.84,65.45 416.81,65.65 418.77,65.87 420.74,66.08 422.70,66.31 424.65,66.54 426.61,66.78 428.56,67.03 430.51,67.28 432.45,67.54 434.40,67.81 436.34,68.09 438.27,68.37 440.20,68.66 442.13,68.95 444.06,69.25 445.98,69.56 447.90,69.88 449.81,70.20 451.72,70.53 453.63,70.87 455.53,71.21 457.42,71.56 459.32,71.92 461.20,72.28 463.09,72.65 464.97,73.03 466.84,73.41 468.71,73.80 470.57,74.20 472.43,74.60 474.29,75.01 476.14,75.43 477.98,75.86 479.82,76.29 481.65,76.73 483.47,77.17 485.30,77.62 487.11,78.08 488.92,78.55 490.72,79.02 492.52,79.50 494.31,79.99 496.09,80.48 497.87,80.98 499.64,81.48 501.41,81.99 503.16,82.51 504.91,83.04 506.66,83.57 508.39,84.11 510.12,84.66 511.84,85.21 513.56,85.77 515.27,86.33 516.97,86.91 518.66,87.48 520.34,88.07 522.02,88.66 523.68,89.26 525.34,89.86 527.00,90.48 528.64,91.09 530.27,91.72 531.90,92.35 533.52,92.99 535.12,93.63 536.72,94.28 538.31,94.94 539.89,95.60 541.47,96.27 543.03,96.94 544.58,97.63 546.13,98.31 547.66,99.01 549.18,99.71 550.70,100.42 552.20,101.13 553.69,101.85 555.18,102.58 556.65,103.31 558.11,104.05 559.56,104.79 561.01,105.54 562.44,106.30 563.85,107.06 565.26,107.83 566.66,108.60 568.04,109.38 569.42,110.17 570.78,110.96 572.13,111.76 573.47,112.57 574.79,113.38 576.11,114.19 577.41,115.02 578.70,115.85 579.98,116.68 581.24,117.52 582.50,118.36 583.73,119.22 584.96,120.07 586.17,120.93 587.37,121.80 588.56,122.68 589.73,123.55 590.89,124.44 592.04,125.33 593.17,126.22 594.29,127.12 595.39,128.03 596.48,128.94 597.56,129.86 598.62,130.78 599.67,131.71 600.70,132.64 601.71,133.58 602.72,134.52 603.70,135.47 604.67,136.42 605.63,137.38 606.57,138.34 607.50,139.31 608.41,140.28 609.30,141.26 610.18,142.24 611.04,143.22 611.88,144.22 612.71,145.21 613.52,146.21 614.32,147.22 615.10,148.22 615.86,149.24 616.61,150.26 617.33,151.28 618.04,152.30 618.74,153.33 619.41,154.37 620.07,155.41 620.71,156.45 621.33,157.50 621.94,158.55 622.53,159.60 623.09,160.66 623.64,161.72 624.18,162.78 624.69,163.85 625.18,164.93 625.66,166.00 626.11,167.08 626.55,168.16 626.97,169.25 627.37,170.34 627.75,171.43 628.11,172.52 628.45,173.62 628.77,174.72 629.07,175.83 629.35,176.93 629.61,178.04 629.85,179.15 630.07,180.27 630.27,181.38 630.45,182.50 630.60,183.62 630.74,184.75 630.86,185.87 630.95,187.00 631.03,188.13 631.08,189.26 631.11,190.39 631.12,191.53 631.11,192.66 631.08,193.80 631.03,194.94 630.95,196.08 630.85,197.22 630.73,198.36 630.59,199.51 630.43,200.65 630.24,201.80 630.03,202.94 629.80,204.09 629.55,205.24 629.27,206.38 628.98,207.53 628.66,208.68 628.31,209.83 627.95,210.98 627.56,212.13 627.14,213.28 626.71,214.43 626.25,215.57 625.77,216.72 625.26,217.87 624.74,219.01 624.19,220.16 623.61,221.30 623.01,222.45 622.39,223.59 621.75,224.73 621.08,225.87 620.39,227.01 619.67,228.15 618.93,229.28 618.17,230.42 617.38,231.55 616.57,232.68 615.74,233.80 614.88,234.93 614.00,236.05 613.10,237.17 612.17,238.29 611.21,239.41 610.24,240.52 609.24,241.63 608.21,242.73 607.17,243.83 606.09,244.93 605.00,246.03 603.88,247.12 602.74,248.21 601.57,249.29 600.38,250.38 599.17,251.45 597.93,252.52 596.67,253.59 595.38,254.66 594.07,255.71 592.74,256.77 591.39,257.82 590.01,258.86 588.60,259.90 587.18,260.93 585.73,261.96 584.26,262.98 582.76,264.00 581.25,265.01 579.71,266.02 578.14,267.02 576.56,268.01 574.95,269.00 573.32,269.98 571.66,270.95 569.98,271.92 568.29,272.88 566.57,273.83 564.82,274.78 563.06,275.72 561.27,276.65 559.46,277.58 557.63,278.49 555.78,279.40 553.91,280.31 552.02,281.20 550.10,282.08 548.17,282.96 546.21,283.83 544.23,284.69 542.24,285.54 540.22,286.39 538.18,287.22 536.13,288.05 534.05,288.86 531.95,289.67 529.84,290.47 527.70,291.26 525.55,292.04 523.38,292.81 521.19,293.56 518.98,294.31 516.75,295.05 514.50,295.78 512.24,296.50 509.96,297.21 507.66,297.91 505.35,298.60 503.02,299.28 500.67,299.95 498.30,300.60 495.92,301.25 493.53,301.88 491.12,302.50 488.69,303.12 486.25,303.72 483.79,304.31 481.32,304.88 478.83,305.45 476.33,306.00 473.82,306.55 471.29,307.08 468.75,307.59 466.20,308.10 463.63,308.60 461.05,309.08 458.46,309.55 455.86,310.01 453.24,310.45 450.62,310.88 447.98,311.30 445.34,311.71 442.68,312.11 440.01,312.49 437.34,312.86 434.65,313.21 431.96,313.56 429.26,313.89 426.54,314.20 423.82,314.51 421.10,314.80 418.36,315.08 415.62,315.34 412.87,315.59 410.12,315.83 407.36,316.06 404.59,316.27 401.82,316.46 399.04,316.65 396.26,316.82 Z" fill="#4472C4"/>
<path d="M358.98,168.64 396.26,316.82 393.42,316.98 390.58,317.12 387.74,317.26 384.90,317.37 382.05,317.48 379.20,317.57 376.34,317.64 373.49,317.70 370.63,317.75 367.77,317.78 364.91,317.80 362.05,317.80 359.19,317.79 356.33,317.77 353.47,317.73 350.61,317.68 347.75,317.61 344.89,317.53 342.04,317.44 339.19,317.33 336.34,317.20 333.49,317.07 330.65,316.91 327.81,316.75 324.97,316.57 322.14,316.38 319.32,316.17 316.50,315.95 313.68,315.71 310.87,315.46 308.07,315.20 305.27,314.93 302.48,314.64 299.70,314.33 296.93,314.01 294.16,313.68 291.40,313.34 288.65,312.98 285.91,312.61 283.18,312.23 280.46,311.83 277.75,311.42 275.05,310.99 272.35,310.56 269.67,310.11 267.01,309.65 264.35,309.17 261.70,308.68 259.07,308.18 256.45,307.67 Z" fill="#ED7D31"/>
<path d="M358.98,168.64 256.45,307.67 253.80,307.14 251.17,306.59 248.55,306.03 245.95,305.46 243.36,304.88 240.78,304.28 238.22,303.67 235.68,303.05 233.15,302.42 230.63,301.78 228.14,301.12 225.65,300.45 223.19,299.77 220.74,299.08 218.31,298.38 215.90,297.67 213.50,296.94 211.13,296.21 208.77,295.46 206.43,294.70 204.10,293.94 201.80,293.16 Z" fill="#A5A5A5"/>
<path d="M358.98,168.64 201.80,293.16 199.56,292.38 197.34,291.60 195.14,290.81 192.96,290.01 190.80,289.20 188.66,288.37 186.53,287.54 184.43,286.70 182.34,285.86 180.28,285.00 178.24,284.13 176.21,283.26 174.21,282.37 172.23,281.48 170.27,280.58 168.33,279.67 166.42,278.76 164.52,277.83 162.64,276.90 160.79,275.96 158.96,275.02 157.15,274.06 155.37,273.10 153.60,272.13 151.86,271.16 150.14,270.17 148.44,269.19 146.77,268.19 145.12,267.19 143.49,266.18 141.88,265.17 140.30,264.14 138.74,263.12 137.20,262.09 135.69,261.05 134.20,260.01 132.74,258.96 131.30,257.90 129.88,256.84 128.48,255.78 127.11,254.71 125.76,253.64 124.44,252.56 123.14,251.48 Z" fill="#FFC000"/>
<path d="M358.98,168.64 123.14,251.48 122.68,251.09 Z" fill="#5B9BD5"/>
<path d="M358.98,168.64 122.68,251.09 121.43,250.01 120.19,248.93 118.99,247.84 117.80,246.75 116.64,245.66 115.51,244.57 114.39,243.47 113.30,242.36 112.24,241.26 111.20,240.15 110.18,239.03 109.18,237.92 108.21,236.80 107.26,235.68 106.34,234.56 105.44,233.43 104.56,232.31 103.71,231.18 102.88,230.05 102.08,228.91 101.29,227.78 100.53,226.64 99.80,225.50 99.09,224.36 98.40,223.22 97.73,222.08 97.09,220.94 96.47,219.79 95.88,218.65 95.31,217.50 94.76,216.36 94.23,215.21 93.73,214.06 93.25,212.91 92.79,211.77 92.36,210.62 91.95,209.47 91.56,208.32 91.20,207.18 90.85,206.03 90.53,204.88 90.23,203.74 89.96,202.59 89.71,201.44 89.47,200.30 89.27,199.16 89.08,198.01 88.91,196.87 88.77,195.73 88.65,194.59 88.55,193.46 88.47,192.32 88.42,191.19 88.38,190.05 88.37,188.92 88.38,187.79 88.41,186.67 88.46,185.54 88.53,184.42 88.62,183.29 88.74,182.18 88.87,181.06 89.02,179.94 89.20,178.83 89.39,177.72 89.61,176.61 89.84,175.51 90.10,174.41 90.38,173.31 90.67,172.21 90.99,171.12 91.32,170.03 91.68,168.94 92.05,167.86 92.44,166.78 92.86,165.70 93.29,164.63 93.74,163.56 94.21,162.49 94.69,161.43 95.20,160.37 95.72,159.31 96.27,158.26 96.83,157.21 97.41,156.17 98.01,155.13 98.62,154.09 99.25,153.06 99.90,152.03 100.57,151.01 101.26,149.99 101.96,148.97 102.68,147.96 103.42,146.95 104.17,145.95 104.94,144.95 105.73,143.96 106.53,142.97 107.35,141.99 108.19,141.01 109.04,140.03 109.91,139.06 110.79,138.10 111.69,137.14 112.61,136.18 113.54,135.23 114.49,134.29 115.45,133.35 116.43,132.41 117.42,131.48 118.43,130.56 119.45,129.64 120.49,128.72 121.54,127.81 122.60,126.91 123.68,126.01 124.78,125.12 125.88,124.23 127.01,123.34 128.14,122.47 129.29,121.60 130.45,120.73 131.63,119.87 132.82,119.02 134.02,118.17 135.24,117.32 136.47,116.49 137.71,115.65 138.96,114.83 140.23,114.01 141.51,113.19 142.80,112.38 144.10,111.58 145.42,110.78 146.75,109.99 148.09,109.21 149.44,108.43 150.80,107.66 152.18,106.89 153.56,106.13 154.96,105.37 156.37,104.62 157.79,103.88 159.22,103.15 160.66,102.42 162.11,101.69 163.57,100.97 165.05,100.26 166.53,99.56 168.02,98.86 169.53,98.16 171.04,97.48 172.56,96.80 174.10,96.12 175.64,95.46 177.19,94.79 178.75,94.14 180.32,93.49 181.91,92.85 183.49,92.21 185.09,91.58 186.70,90.96 188.32,90.35 189.94,89.74 191.57,89.13 193.22,88.54 194.87,87.95 196.53,87.36 198.19,86.78 199.87,86.21 201.55,85.65 203.24,85.09 204.94,84.54 206.64,84.00 208.36,83.46 210.08,82.93 211.81,82.41 213.54,81.89 215.28,81.38 217.03,80.87 218.79,80.37 220.55,79.88 222.32,79.40 224.10,78.92 225.88,78.45 227.67,77.99 229.46,77.53 231.26,77.08 233.07,76.64 234.89,76.20 236.70,75.77 238.53,75.35 240.36,74.93 242.20,74.52 244.04,74.12 245.89,73.72 247.74,73.33 249.60,72.95 251.46,72.57 253.33,72.20 255.20,71.84 257.08,71.48 258.96,71.14 260.85,70.79 262.74,70.46 264.64,70.13 266.54,69.81 268.44,69.50 270.35,69.19 272.26,68.89 274.18,68.59 276.10,68.31 278.02,68.03 279.95,67.75 281.88,67.49 283.82,67.23 285.76,66.98 287.70,66.73 289.65,66.49 291.60,66.26 293.55,66.04 295.50,65.82 297.46,65.61 299.42,65.40 301.38,65.21 303.35,65.02 305.32,64.83 307.29,64.66 309.26,64.49 311.24,64.33 313.21,64.17 315.19,64.02 317.17,63.88 319.16,63.75 321.14,63.62 323.13,63.50 325.12,63.38 327.11,63.28 329.10,63.18 331.09,63.08 333.09,63.00 335.08,62.92 337.08,62.85 339.08,62.78 341.08,62.72 343.08,62.67 345.08,62.63 347.08,62.59 349.08,62.56 351.08,62.53 353.08,62.52 355.09,62.51 357.09,62.51 359.09,62.51 Z" fill="#70AD47"/>
<defs><linearGradient id="hg_orange" gradientUnits="userSpaceOnUse" x1="256.45" y1="0" x2="396.26" y2="0"><stop offset="0.000" stop-color="#FFA45C" stop-opacity="0.997"/><stop offset="0.136" stop-color="#FFA45C" stop-opacity="0.939"/><stop offset="0.275" stop-color="#FFA45C" stop-opacity="0.882"/><stop offset="0.418" stop-color="#FFA45C" stop-opacity="0.824"/><stop offset="0.563" stop-color="#FFA45C" stop-opacity="0.767"/><stop offset="0.709" stop-color="#FFA45C" stop-opacity="0.709"/><stop offset="0.855" stop-color="#FFA45C" stop-opacity="0.522"/><stop offset="1.000" stop-color="#FFA45C" stop-opacity="0.310"/></linearGradient></defs>
<path d="M396.26,316.82 393.42,316.98 390.58,317.12 387.74,317.26 384.90,317.37 382.05,317.48 379.20,317.57 376.34,317.64 373.49,317.70 370.63,317.75 367.77,317.78 364.91,317.80 362.05,317.80 359.19,317.79 356.33,317.77 353.47,317.73 350.61,317.68 347.75,317.61 344.89,317.53 342.04,317.44 339.19,317.33 336.34,317.20 333.49,317.07 330.65,316.91 327.81,316.75 324.97,316.57 322.14,316.38 319.32,316.17 316.50,315.95 313.68,315.71 310.87,315.46 308.07,315.20 305.27,314.93 302.48,314.64 299.70,314.33 296.93,314.01 294.16,313.68 291.40,313.34 288.65,312.98 285.91,312.61 283.18,312.23 280.46,311.83 277.75,311.42 275.05,310.99 272.35,310.56 269.67,310.11 267.01,309.65 264.35,309.17 261.70,308.68 259.07,308.18 256.45,307.67" fill="none" stroke="url(#hg_orange)" stroke-opacity="0.7" stroke-width="3.6" filter="url(#blurH)"/>
<path d="M396.26,316.82 393.42,316.98 390.58,317.12 387.74,317.26 384.90,317.37 382.05,317.48 379.20,317.57 376.34,317.64 373.49,317.70 370.63,317.75 367.77,317.78 364.91,317.80 362.05,317.80 359.19,317.79 356.33,317.77 353.47,317.73 350.61,317.68 347.75,317.61 344.89,317.53 342.04,317.44 339.19,317.33 336.34,317.20 333.49,317.07 330.65,316.91 327.81,316.75 324.97,316.57 322.14,316.38 319.32,316.17 316.50,315.95 313.68,315.71 310.87,315.46 308.07,315.20 305.27,314.93 302.48,314.64 299.70,314.33 296.93,314.01 294.16,313.68 291.40,313.34 288.65,312.98 285.91,312.61 283.18,312.23 280.46,311.83 277.75,311.42 275.05,310.99 272.35,310.56 269.67,310.11 267.01,309.65 264.35,309.17 261.70,308.68 259.07,308.18 256.45,307.67" fill="none" stroke="url(#hg_orange)" stroke-width="1.4" filter="url(#blur05)"/>
<defs><linearGradient id="hg_gray" gradientUnits="userSpaceOnUse" x1="201.80" y1="0" x2="256.45" y2="0"><stop offset="0.000" stop-color="#F2F2F2" stop-opacity="1.000"/><stop offset="0.134" stop-color="#F2F2F2" stop-opacity="1.000"/><stop offset="0.271" stop-color="#F2F2F2" stop-opacity="1.000"/><stop offset="0.411" stop-color="#F2F2F2" stop-opacity="1.000"/><stop offset="0.554" stop-color="#F2F2F2" stop-opacity="1.000"/><stop offset="0.700" stop-color="#F2F2F2" stop-opacity="1.000"/><stop offset="0.849" stop-color="#F2F2F2" stop-opacity="1.000"/><stop offset="1.000" stop-color="#F2F2F2" stop-opacity="0.997"/></linearGradient></defs>
<path d="M256.45,307.67 253.80,307.14 251.17,306.59 248.55,306.03 245.95,305.46 243.36,304.88 240.78,304.28 238.22,303.67 235.68,303.05 233.15,302.42 230.63,301.78 228.14,301.12 225.65,300.45 223.19,299.77 220.74,299.08 218.31,298.38 215.90,297.67 213.50,296.94 211.13,296.21 208.77,295.46 206.43,294.70 204.10,293.94 201.80,293.16" fill="none" stroke="url(#hg_gray)" stroke-opacity="0.7" stroke-width="3.6" filter="url(#blurH)"/>
<path d="M256.45,307.67 253.80,307.14 251.17,306.59 248.55,306.03 245.95,305.46 243.36,304.88 240.78,304.28 238.22,303.67 235.68,303.05 233.15,302.42 230.63,301.78 228.14,301.12 225.65,300.45 223.19,299.77 220.74,299.08 218.31,298.38 215.90,297.67 213.50,296.94 211.13,296.21 208.77,295.46 206.43,294.70 204.10,293.94 201.80,293.16" fill="none" stroke="url(#hg_gray)" stroke-width="1.4" filter="url(#blur05)"/>
<defs><linearGradient id="hg_gold" gradientUnits="userSpaceOnUse" x1="123.14" y1="0" x2="201.80" y2="0"><stop offset="0.000" stop-color="#FFF02A" stop-opacity="0.998"/><stop offset="0.109" stop-color="#FFF02A" stop-opacity="1.000"/><stop offset="0.230" stop-color="#FFF02A" stop-opacity="1.000"/><stop offset="0.362" stop-color="#FFF02A" stop-opacity="1.000"/><stop offset="0.506" stop-color="#FFF02A" stop-opacity="1.000"/><stop offset="0.660" stop-color="#FFF02A" stop-opacity="1.000"/><stop offset="0.825" stop-color="#FFF02A" stop-opacity="1.000"/><stop offset="1.000" stop-color="#FFF02A" stop-opacity="1.000"/></linearGradient></defs>
<path d="M201.80,293.16 199.56,292.38 197.34,291.60 195.14,290.81 192.96,290.01 190.80,289.20 188.66,288.37 186.53,287.54 184.43,286.70 182.34,285.86 180.28,285.00 178.24,284.13 176.21,283.26 174.21,282.37 172.23,281.48 170.27,280.58 168.33,279.67 166.42,278.76 164.52,277.83 162.64,276.90 160.79,275.96 158.96,275.02 157.15,274.06 155.37,273.10 153.60,272.13 151.86,271.16 150.14,270.17 148.44,269.19 146.77,268.19 145.12,267.19 143.49,266.18 141.88,265.17 140.30,264.14 138.74,263.12 137.20,262.09 135.69,261.05 134.20,260.01 132.74,258.96 131.30,257.90 129.88,256.84 128.48,255.78 127.11,254.71 125.76,253.64 124.44,252.56 123.14,251.48" fill="none" stroke="url(#hg_gold)" stroke-opacity="0.7" stroke-width="3.6" filter="url(#blurH)"/>
<path d="M201.80,293.16 199.56,292.38 197.34,291.60 195.14,290.81 192.96,290.01 190.80,289.20 188.66,288.37 186.53,287.54 184.43,286.70 182.34,285.86 180.28,285.00 178.24,284.13 176.21,283.26 174.21,282.37 172.23,281.48 170.27,280.58 168.33,279.67 166.42,278.76 164.52,277.83 162.64,276.90 160.79,275.96 158.96,275.02 157.15,274.06 155.37,273.10 153.60,272.13 151.86,271.16 150.14,270.17 148.44,269.19 146.77,268.19 145.12,267.19 143.49,266.18 141.88,265.17 140.30,264.14 138.74,263.12 137.20,262.09 135.69,261.05 134.20,260.01 132.74,258.96 131.30,257.90 129.88,256.84 128.48,255.78 127.11,254.71 125.76,253.64 124.44,252.56 123.14,251.48" fill="none" stroke="url(#hg_gold)" stroke-width="1.4" filter="url(#blur05)"/>
<defs><linearGradient id="hg_green" gradientUnits="userSpaceOnUse" x1="88.50" y1="0" x2="122.68" y2="0"><stop offset="0.000" stop-color="#9BDB6B" stop-opacity="0.000"/><stop offset="0.004" stop-color="#9BDB6B" stop-opacity="0.901"/><stop offset="0.052" stop-color="#9BDB6B" stop-opacity="0.917"/><stop offset="0.146" stop-color="#9BDB6B" stop-opacity="0.933"/><stop offset="0.288" stop-color="#9BDB6B" stop-opacity="0.949"/><stop offset="0.477" stop-color="#9BDB6B" stop-opacity="0.965"/><stop offset="0.714" stop-color="#9BDB6B" stop-opacity="0.981"/><stop offset="1.000" stop-color="#9BDB6B" stop-opacity="0.998"/></linearGradient></defs>
<path d="M122.68,251.09 121.41,250.00 120.17,248.91 118.95,247.81 117.76,246.71 116.59,245.61 115.44,244.50 114.32,243.39 113.22,242.28 112.15,241.16 111.10,240.04 110.07,238.91 109.07,237.79 108.09,236.66 107.14,235.53 106.21,234.39 105.30,233.26 104.42,232.12 103.56,230.98 102.73,229.84 101.92,228.69 101.14,227.54 100.37,226.40 99.64,225.25 98.92,224.10 98.23,222.94 97.57,221.79 96.93,220.63 96.31,219.48 95.71,218.32 95.14,217.17 94.60,216.01 94.07,214.85 93.57,213.69 93.10,212.53 92.64,211.37 92.21,210.21 91.81,209.06 91.42,207.90 91.06,206.74 90.72,205.58 90.41,204.42 90.12,203.26 89.85,202.11 89.60,200.95 89.38,199.80 89.18,198.64 89.00,197.49 88.84,196.34 88.71,195.19 88.60,194.04 88.51,192.89 88.44,191.74 88.40,190.60 88.37,189.45 88.37,188.31 88.39,187.17 88.43,186.04 88.50,184.90" fill="none" stroke="url(#hg_green)" stroke-opacity="0.7" stroke-width="3.6" filter="url(#blurH)"/>
<path d="M122.68,251.09 121.41,250.00 120.17,248.91 118.95,247.81 117.76,246.71 116.59,245.61 115.44,244.50 114.32,243.39 113.22,242.28 112.15,241.16 111.10,240.04 110.07,238.91 109.07,237.79 108.09,236.66 107.14,235.53 106.21,234.39 105.30,233.26 104.42,232.12 103.56,230.98 102.73,229.84 101.92,228.69 101.14,227.54 100.37,226.40 99.64,225.25 98.92,224.10 98.23,222.94 97.57,221.79 96.93,220.63 96.31,219.48 95.71,218.32 95.14,217.17 94.60,216.01 94.07,214.85 93.57,213.69 93.10,212.53 92.64,211.37 92.21,210.21 91.81,209.06 91.42,207.90 91.06,206.74 90.72,205.58 90.41,204.42 90.12,203.26 89.85,202.11 89.60,200.95 89.38,199.80 89.18,198.64 89.00,197.49 88.84,196.34 88.71,195.19 88.60,194.04 88.51,192.89 88.44,191.74 88.40,190.60 88.37,189.45 88.37,188.31 88.39,187.17 88.43,186.04 88.50,184.90" fill="none" stroke="url(#hg_green)" stroke-width="1.4" filter="url(#blur05)"/>
<path d="M358.99,162.27 L359.09,62.51" fill="none" stroke="#3F6FD0" stroke-opacity="0.8" stroke-width="1.1"/>
<path d="M361.22,177.53 L396.26,316.82" fill="none" stroke="#3F6FD0" stroke-opacity="0.8" stroke-width="1.1"/>
<path d="M352.83,176.98 L256.45,307.67" fill="none" stroke="#8496C4" stroke-opacity="0.7" stroke-width="1.1"/>
<path d="M349.55,176.11 L201.80,293.16" fill="none" stroke="#8496C4" stroke-opacity="0.7" stroke-width="1.1"/>
<path d="M344.81,173.58 L122.68,251.09" fill="none" stroke="#8BAF60" stroke-opacity="0.5" stroke-width="1.1"/>
<path d="M88.50,184.90 88.58,183.78 88.68,182.66 88.81,181.55 88.95,180.44 89.12,179.33 89.30,178.22 89.51,177.11 89.74,176.01 89.98,174.91 90.25,173.82 90.53,172.72 90.84,171.63 91.16,170.54 91.51,169.46 91.87,168.38 92.25,167.30 92.65,166.22 93.08,165.15 93.52,164.08 93.97,163.01 94.45,161.95 94.95,160.89 95.46,159.84 95.99,158.79 96.54,157.74 97.11,156.70 97.70,155.66 98.30,154.62 98.93,153.59 99.57,152.56 100.22,151.54 100.90,150.52 101.59,149.51 102.30,148.50 103.02,147.49 103.77,146.49 104.52,145.49 105.30,144.50 106.09,143.51 106.90,142.53 107.73,141.55 108.57,140.57 109.43,139.60 110.30,138.64 111.19,137.68 112.09,136.72 113.01,135.77 113.95,134.83 114.90,133.88 115.86,132.95 116.84,132.02 117.84,131.09 118.85,130.17 119.87,129.26 120.91,128.35 121.97,127.44 123.04,126.54 124.12,125.65 125.21,124.76 126.32,123.88 127.45,123.00 128.59,122.13 129.74,121.26 130.90,120.40 132.08,119.54 133.27,118.69 134.47,117.85 135.69,117.01 136.92,116.18 138.16,115.35 139.42,114.53 140.69,113.71 141.97,112.90 143.26,112.10 144.56,111.30 145.88,110.51 147.21,109.72 148.55,108.94 149.90,108.17 151.26,107.40 152.64,106.63 154.02,105.88 155.42,105.13 156.83,104.38 158.25,103.64 159.68,102.91 161.12,102.19 162.57,101.47 164.03,100.75 165.50,100.04 166.98,99.34 168.47,98.65 169.98,97.96 171.49,97.28 173.01,96.60 174.54,95.93 176.08,95.26 177.63,94.61 179.19,93.96 180.76,93.31 182.34,92.67 183.93,92.04 185.53,91.42 187.13,90.80 188.74,90.18 190.37,89.58 192.00,88.98 193.64,88.38 195.28,87.80 196.94,87.22 198.60,86.64 200.28,86.08 201.96,85.52 203.64,84.96 205.34,84.41 207.04,83.87 208.75,83.34 210.47,82.81 212.19,82.29 213.92,81.77 215.66,81.27 217.41,80.77 219.16,80.27 220.92,79.78 222.68,79.30 224.46,78.83 226.24,78.36 228.02,77.90 229.81,77.44 231.61,76.99 233.41,76.55 235.22,76.12 237.04,75.69 238.86,75.27 240.68,74.86 242.52,74.45 244.35,74.05 246.20,73.65 248.05,73.27 249.90,72.89 251.76,72.51 253.62,72.15 255.49,71.79 257.36,71.43 259.24,71.09 261.12,70.75 263.01,70.41 264.90,70.09 266.79,69.77 268.69,69.45 270.60,69.15 272.51,68.85 274.42,68.56 276.33,68.27 278.25,68.00 280.18,67.72 282.10,67.46 284.03,67.20 285.97,66.95 287.90,66.71 289.84,66.47 291.79,66.24 293.73,66.02 295.68,65.80 297.64,65.59 299.59,65.39 301.55,65.19 303.51,65.00 305.47,64.82 307.44,64.64 309.40,64.48 311.37,64.31 313.34,64.16 315.32,64.01 317.29,63.87 319.27,63.74 321.25,63.61 323.23,63.49 325.22,63.38 327.20,63.27 329.19,63.17 331.17,63.08 333.16,62.99 335.15,62.91 337.14,62.84 339.14,62.78 341.13,62.72 343.12,62.67 345.12,62.63 347.11,62.59 349.11,62.56 351.10,62.53 353.10,62.52 355.10,62.51 357.10,62.51 359.09,62.51" fill="none" stroke="#5FA832" stroke-opacity="0.7" stroke-width="1.1"/>
<path d="M359.09,62.51 361.09,62.52 363.09,62.54 365.09,62.56 367.08,62.60 369.08,62.64 371.08,62.68 373.07,62.73 375.07,62.79 377.06,62.86 379.06,62.93 381.05,63.01 383.05,63.10 385.04,63.20 387.03,63.30 389.02,63.40 391.01,63.52 392.99,63.64 394.98,63.77 396.96,63.91 398.95,64.05 400.93,64.20 402.91,64.35 404.88,64.52 406.86,64.69 408.83,64.87 410.80,65.05 412.77,65.24 414.74,65.44 416.70,65.64 418.67,65.85 420.63,66.07 422.58,66.30 424.54,66.53 426.49,66.77 428.44,67.01 430.38,67.27 432.32,67.53 434.26,67.79 436.20,68.07 438.13,68.35 440.06,68.63 441.99,68.93 443.91,69.23 445.83,69.54 447.74,69.85 449.65,70.17 451.56,70.50 453.46,70.84 455.36,71.18 457.25,71.53 459.14,71.88 461.03,72.24 462.91,72.61 464.78,72.99 466.65,73.37 468.52,73.76 470.38,74.16 472.24,74.56 474.09,74.97 475.94,75.39 477.78,75.81 479.61,76.24 481.44,76.68 483.26,77.12 485.08,77.57 486.89,78.03 488.70,78.49 490.50,78.96 492.29,79.44 494.08,79.92 495.86,80.41 497.64,80.91 499.41,81.42 501.17,81.93 502.93,82.44 504.67,82.97 506.41,83.50 508.15,84.03 509.88,84.58 511.60,85.13 513.31,85.69 515.01,86.25 516.71,86.82 518.40,87.40 520.08,87.98 521.76,88.57 523.42,89.16 525.08,89.77 526.73,90.38 528.37,90.99 530.00,91.61 531.63,92.24 533.24,92.88 534.85,93.52 536.45,94.17 538.04,94.82 539.62,95.48 541.19,96.15 542.75,96.82 544.30,97.50 545.84,98.19 547.38,98.88 548.90,99.58 550.41,100.28 551.92,100.99 553.41,101.71 554.89,102.43 556.36,103.16 557.83,103.90 559.28,104.64 560.72,105.39 562.15,106.14 563.57,106.90 564.97,107.67 566.37,108.44 567.75,109.22 569.13,110.00 570.49,110.80 571.84,111.59 573.18,112.39 574.51,113.20 575.82,114.01 577.12,114.83 578.41,115.66 579.69,116.49 580.96,117.33 582.21,118.17 583.45,119.02 584.68,119.87 585.89,120.73 587.09,121.60 588.28,122.47 589.45,123.34 590.61,124.22 591.76,125.11 592.89,126.00 594.01,126.90 595.12,127.80 596.21,128.71 597.29,129.63 598.35,130.55 599.40,131.47 600.43,132.40 601.45,133.33 602.45,134.27 603.44,135.22 604.42,136.17 605.38,137.12 606.32,138.08 607.25,139.05 608.16,140.01 609.06,140.99 609.94,141.97 610.80,142.95 611.65,143.94 612.48,144.93 613.30,145.93 614.09,146.93 614.88,147.93 615.64,148.94 616.39,149.96 617.12,150.98 617.84,152.00 618.53,153.03 619.21,154.06 619.88,155.09 620.52,156.13 621.15,157.18 621.76,158.22 622.35,159.28 622.92,160.33 623.48,161.39 624.01,162.45 624.53,163.52 625.03,164.59 625.51,165.66 625.97,166.73 626.41,167.81 626.84,168.90 627.24,169.98 627.63,171.07 627.99,172.16 628.34,173.26 628.66,174.36 628.97,175.46 629.26,176.56 629.52,177.67 629.77,178.77 630.00,179.89 630.20,181.00 630.39,182.11 630.55,183.23 630.70,184.35 630.82,185.48 630.92,186.60 631.00,187.73 631.06,188.86 631.10,189.99 631.12,191.12 631.12,192.25 631.09,193.39 631.05,194.52" fill="none" stroke="#3566C8" stroke-opacity="0.7" stroke-width="1.1"/>
<path d="M396.26,316.82 393.46,316.98 390.66,317.12 387.85,317.25 385.04,317.37 382.23,317.47 379.42,317.56 376.60,317.63 373.78,317.70 370.96,317.74 368.14,317.78 365.32,317.80 362.49,317.80 359.67,317.80 356.85,317.77 354.02,317.74 351.20,317.69 348.38,317.63 345.56,317.55 342.74,317.46 339.93,317.36 337.11,317.24 334.30,317.11 331.49,316.96 328.69,316.80 325.89,316.63 323.10,316.44 320.30,316.24 317.52,316.03 314.74,315.80 311.96,315.56 309.19,315.31 306.43,315.04 303.67,314.76 300.92,314.47 298.18,314.16 295.45,313.84 292.72,313.51 290.00,313.16 287.29,312.80 284.59,312.43 281.90,312.04 279.22,311.64 276.55,311.23 273.89,310.81 271.23,310.37 268.59,309.92 265.96,309.46 263.35,308.99 260.74,308.50 258.14,308.00 255.56,307.49 252.99,306.97 250.43,306.43 247.89,305.89 245.36,305.33 242.84,304.76 240.34,304.18 237.85,303.58 235.38,302.98 232.92,302.36 230.47,301.73 228.05,301.10 225.63,300.45 223.23,299.79 220.85,299.11 218.49,298.43 216.14,297.74 213.81,297.04 211.49,296.32 209.19,295.60 206.91,294.86 204.65,294.12 202.40,293.36 200.18,292.60 197.97,291.82 195.78,291.04 193.61,290.25 191.46,289.44 189.32,288.63 187.21,287.81 185.11,286.98 183.04,286.14 180.98,285.29 178.95,284.44 176.93,283.57 174.94,282.70 172.96,281.81 171.01,280.92 169.08,280.02 167.16,279.12 165.27,278.20 163.40,277.28 161.56,276.35 159.73,275.42 157.92,274.47 156.14,273.52 154.38,272.56 152.64,271.60 150.92,270.63 149.23,269.65 147.56,268.66 145.91,267.67 144.28,266.67 142.67,265.67 141.09,264.66 139.53,263.64 138.00,262.62 136.48,261.59 134.99,260.56 133.52,259.52 132.08,258.48 130.66,257.43 129.26,256.38 127.89,255.32 126.54,254.26 125.21,253.19 123.90,252.12 122.62,251.04 121.37,249.96 120.13,248.87 118.92,247.79 117.74,246.69 116.58,245.60 115.44,244.50 114.32,243.39 113.23,242.29 112.16,241.18 111.12,240.07 110.10,238.95 109.11,237.83 108.13,236.71 107.19,235.59 106.26,234.46 105.36,233.33 104.48,232.20 103.63,231.07 102.80,229.93 102.00,228.80 101.21,227.66 100.45,226.52 99.72,225.38 99.01,224.23 98.32,223.09 97.66,221.95 97.02,220.80 96.40,219.65 95.81,218.50 95.23,217.35 94.69,216.20 94.16,215.05 93.66,213.90 93.18,212.75 92.73,211.60 92.30,210.45 91.89,209.30 91.50,208.15 91.14,207.00 90.80,205.85 90.48,204.70 90.19,203.55 89.91,202.40 89.66,201.25 89.44,200.10 89.23,198.96 89.05,197.81 88.89,196.67 88.75,195.52 88.63,194.38 88.53,193.24" transform="translate(0,4.5)" fill="none" stroke="#000" stroke-opacity="0.07" stroke-width="3.5" filter="url(#blur2)"/>
<path d="M630.96,195.89 630.87,197.03 630.75,198.17 630.62,199.32 630.46,200.46 630.27,201.61 630.07,202.76 629.84,203.91 629.59,205.06 629.32,206.21 629.02,207.35 628.71,208.50 628.37,209.65 628.00,210.80 627.62,211.96 627.21,213.11 626.77,214.25 626.32,215.40 625.84,216.55 625.34,217.70 624.81,218.85 624.27,220.00 623.69,221.14 623.10,222.29 622.48,223.43 621.84,224.57 621.17,225.72 620.48,226.86 619.77,227.99 619.03,229.13 618.27,230.27 617.49,231.40 616.68,232.53 615.85,233.66 614.99,234.79 614.11,235.91 613.21,237.03 612.28,238.15 611.33,239.27 610.36,240.38 609.36,241.49 608.34,242.60 607.29,243.70 606.22,244.81 605.13,245.90 604.01,247.00 602.87,248.09 601.70,249.17 600.51,250.26 599.30,251.33 598.06,252.41 596.80,253.48 595.52,254.54 594.21,255.60 592.88,256.66 591.53,257.71 590.15,258.76 588.75,259.80 587.32,260.83 585.87,261.86 584.40,262.89 582.91,263.90 581.39,264.92 579.85,265.93 578.29,266.93 576.70,267.92 575.09,268.91 573.46,269.89 571.81,270.87 570.13,271.84 568.43,272.80 566.71,273.75 564.97,274.70 563.20,275.64 561.42,276.58 559.61,277.50 557.78,278.42 555.93,279.33 554.05,280.24 552.16,281.13 550.24,282.02 548.31,282.90 546.35,283.77 544.37,284.63 542.38,285.48 540.36,286.33 538.32,287.17 536.26,287.99 534.18,288.81 532.09,289.62 529.97,290.42 527.83,291.21 525.68,291.99 523.50,292.76 521.31,293.52 519.10,294.27 516.87,295.01 514.63,295.75 512.36,296.47 510.08,297.18 507.78,297.88 505.46,298.57 503.13,299.25 500.78,299.91 498.41,300.57 496.03,301.22 493.63,301.85 491.22,302.48 488.79,303.09 486.34,303.69 483.88,304.28 481.41,304.86 478.92,305.43 476.42,305.98 473.90,306.53 471.37,307.06 468.83,307.58 466.27,308.09 463.70,308.58 461.12,309.06 458.53,309.54 455.93,309.99 453.31,310.44 450.68,310.87 448.04,311.29 445.39,311.70 442.73,312.10 440.06,312.48 437.39,312.85 434.70,313.21 432.00,313.55 429.29,313.88 426.58,314.20 423.86,314.51 421.13,314.80 418.39,315.08 415.64,315.34 412.89,315.59 410.13,315.83 407.37,316.06 404.60,316.27 401.82,316.46 399.04,316.65 396.26,316.82" fill="none" stroke="#1F3A70" stroke-opacity="0.35" stroke-width="4" filter="url(#blur2)"/>
<g fill="none" stroke="#A6A6A6" stroke-width="1.2"><path d="M100,61.5 L103,61.5 L134,116"/><path d="M142,363.5 L146.5,363.5 L162,336.5"/><path d="M231,364 L231,395"/><path d="M325,380 L325,400"/></g>
<rect x="411" y="138.8" width="252.5" height="73" fill="#F2F2F2"/>
<text x="417.7" y="153.20" font-size="11.0" fill="#262626" stroke="#262626" stroke-width="0.3" textLength="221.0" lengthAdjust="spacingAndGlyphs">Iedzīvotāju ienākuma nodoklis - 33,0 milj.EUR</text>
<text x="417.7" y="167.83" font-size="11.0" fill="#262626" stroke="#262626" stroke-width="0.3" textLength="212.0" lengthAdjust="spacingAndGlyphs">Nekustamā īpašuma nodoklis - 4,9 milj.EUR</text>
<text x="417.7" y="182.46" font-size="11.0" fill="#262626" stroke="#262626" stroke-width="0.3" textLength="169.8" lengthAdjust="spacingAndGlyphs">Azartspēļu nodoklis - 0,05 milj.EUR</text>
<text x="417.7" y="197.09" font-size="11.0" fill="#262626" stroke="#262626" stroke-width="0.3" textLength="189.1" lengthAdjust="spacingAndGlyphs">Dabas resursu nodoklis - 0,15 milj.EUR</text>
<text x="28.20" y="18.10" font-size="11.0" font-weight="bold" fill="#000" stroke="#000" stroke-width="0.25" textLength="120.4" lengthAdjust="spacingAndGlyphs">Valsts budžeta transferti</text>
<text x="28.78" y="32.70" font-size="11.0" font-weight="bold" fill="#000" stroke="#000" stroke-width="0.25" textLength="119.2" lengthAdjust="spacingAndGlyphs">un ārvalstu finansējums</text>
<text x="55.40" y="47.30" font-size="11.0" font-weight="bold" fill="#000" stroke="#000" stroke-width="0.25" textLength="66.0" lengthAdjust="spacingAndGlyphs">28,0 milj.EUR</text>
<text x="77.97" y="61.90" font-size="11.0" font-weight="bold" fill="#000" stroke="#000" stroke-width="0.25" textLength="20.9" lengthAdjust="spacingAndGlyphs">36%</text>
<text x="510.61" y="43.30" font-size="11.0" font-weight="bold" fill="#000" stroke="#000" stroke-width="0.25" textLength="93.2" lengthAdjust="spacingAndGlyphs">Nodokļu ieņēmumi</text>
<text x="524.20" y="57.90" font-size="11.0" font-weight="bold" fill="#000" stroke="#000" stroke-width="0.25" textLength="66.0" lengthAdjust="spacingAndGlyphs">38,1 milj.EUR</text>
<text x="546.77" y="72.50" font-size="11.0" font-weight="bold" fill="#000" stroke="#000" stroke-width="0.25" textLength="20.9" lengthAdjust="spacingAndGlyphs">48%</text>
<text x="7.24" y="290.20" font-size="11.0" font-weight="bold" fill="#000" stroke="#000" stroke-width="0.25" textLength="122.1" lengthAdjust="spacingAndGlyphs">Ziedojumi un dāvinājumi</text>
<text x="35.30" y="304.70" font-size="11.0" font-weight="bold" fill="#000" stroke="#000" stroke-width="0.25" textLength="66.0" lengthAdjust="spacingAndGlyphs">0,04 milj.EUR</text>
<text x="53.53" y="319.20" font-size="11.0" font-weight="bold" fill="#000" stroke="#000" stroke-width="0.25" textLength="29.5" lengthAdjust="spacingAndGlyphs">0,05%</text>
<text x="60.64" y="350.30" font-size="11.0" font-weight="bold" fill="#000" stroke="#000" stroke-width="0.25" textLength="78.7" lengthAdjust="spacingAndGlyphs">Budžeta iestāžu</text>
<text x="75.69" y="364.95" font-size="11.0" font-weight="bold" fill="#000" stroke="#000" stroke-width="0.25" textLength="48.6" lengthAdjust="spacingAndGlyphs">ieņēmumi</text>
<text x="69.90" y="379.60" font-size="11.0" font-weight="bold" fill="#000" stroke="#000" stroke-width="0.25" textLength="60.2" lengthAdjust="spacingAndGlyphs">4,9 milj.EUR</text>
<text x="92.47" y="394.25" font-size="11.0" font-weight="bold" fill="#000" stroke="#000" stroke-width="0.25" textLength="15.1" lengthAdjust="spacingAndGlyphs">6%</text>
<text x="150.33" y="407.10" font-size="11.0" font-weight="bold" fill="#000" stroke="#000" stroke-width="0.25" textLength="105.3" lengthAdjust="spacingAndGlyphs">Nenodokļu ieņēmumi</text>
<text x="172.90" y="421.65" font-size="11.0" font-weight="bold" fill="#000" stroke="#000" stroke-width="0.25" textLength="60.2" lengthAdjust="spacingAndGlyphs">2,5 milj.EUR</text>
<text x="195.47" y="436.20" font-size="11.0" font-weight="bold" fill="#000" stroke="#000" stroke-width="0.25" textLength="15.1" lengthAdjust="spacingAndGlyphs">3%</text>
<text x="305.27" y="409.30" font-size="11.0" font-weight="bold" fill="#000" stroke="#000" stroke-width="0.25" textLength="113.5" lengthAdjust="spacingAndGlyphs">Dotācija no pašvaldību</text>
<text x="291.39" y="423.90" font-size="11.0" font-weight="bold" fill="#000" stroke="#000" stroke-width="0.25" textLength="141.2" lengthAdjust="spacingAndGlyphs">finanšu izlīdzināšanas fonda</text>
<text x="312.50" y="438.50" font-size="11.0" font-weight="bold" fill="#000" stroke="#000" stroke-width="0.25" textLength="99.0" lengthAdjust="spacingAndGlyphs">un speciālā dotācija</text>
<text x="331.90" y="453.10" font-size="11.0" font-weight="bold" fill="#000" stroke="#000" stroke-width="0.25" textLength="60.2" lengthAdjust="spacingAndGlyphs">5,6 milj.EUR</text>
<text x="354.47" y="467.70" font-size="11.0" font-weight="bold" fill="#000" stroke="#000" stroke-width="0.25" textLength="15.1" lengthAdjust="spacingAndGlyphs">7%</text>
</svg>
</body></html>
